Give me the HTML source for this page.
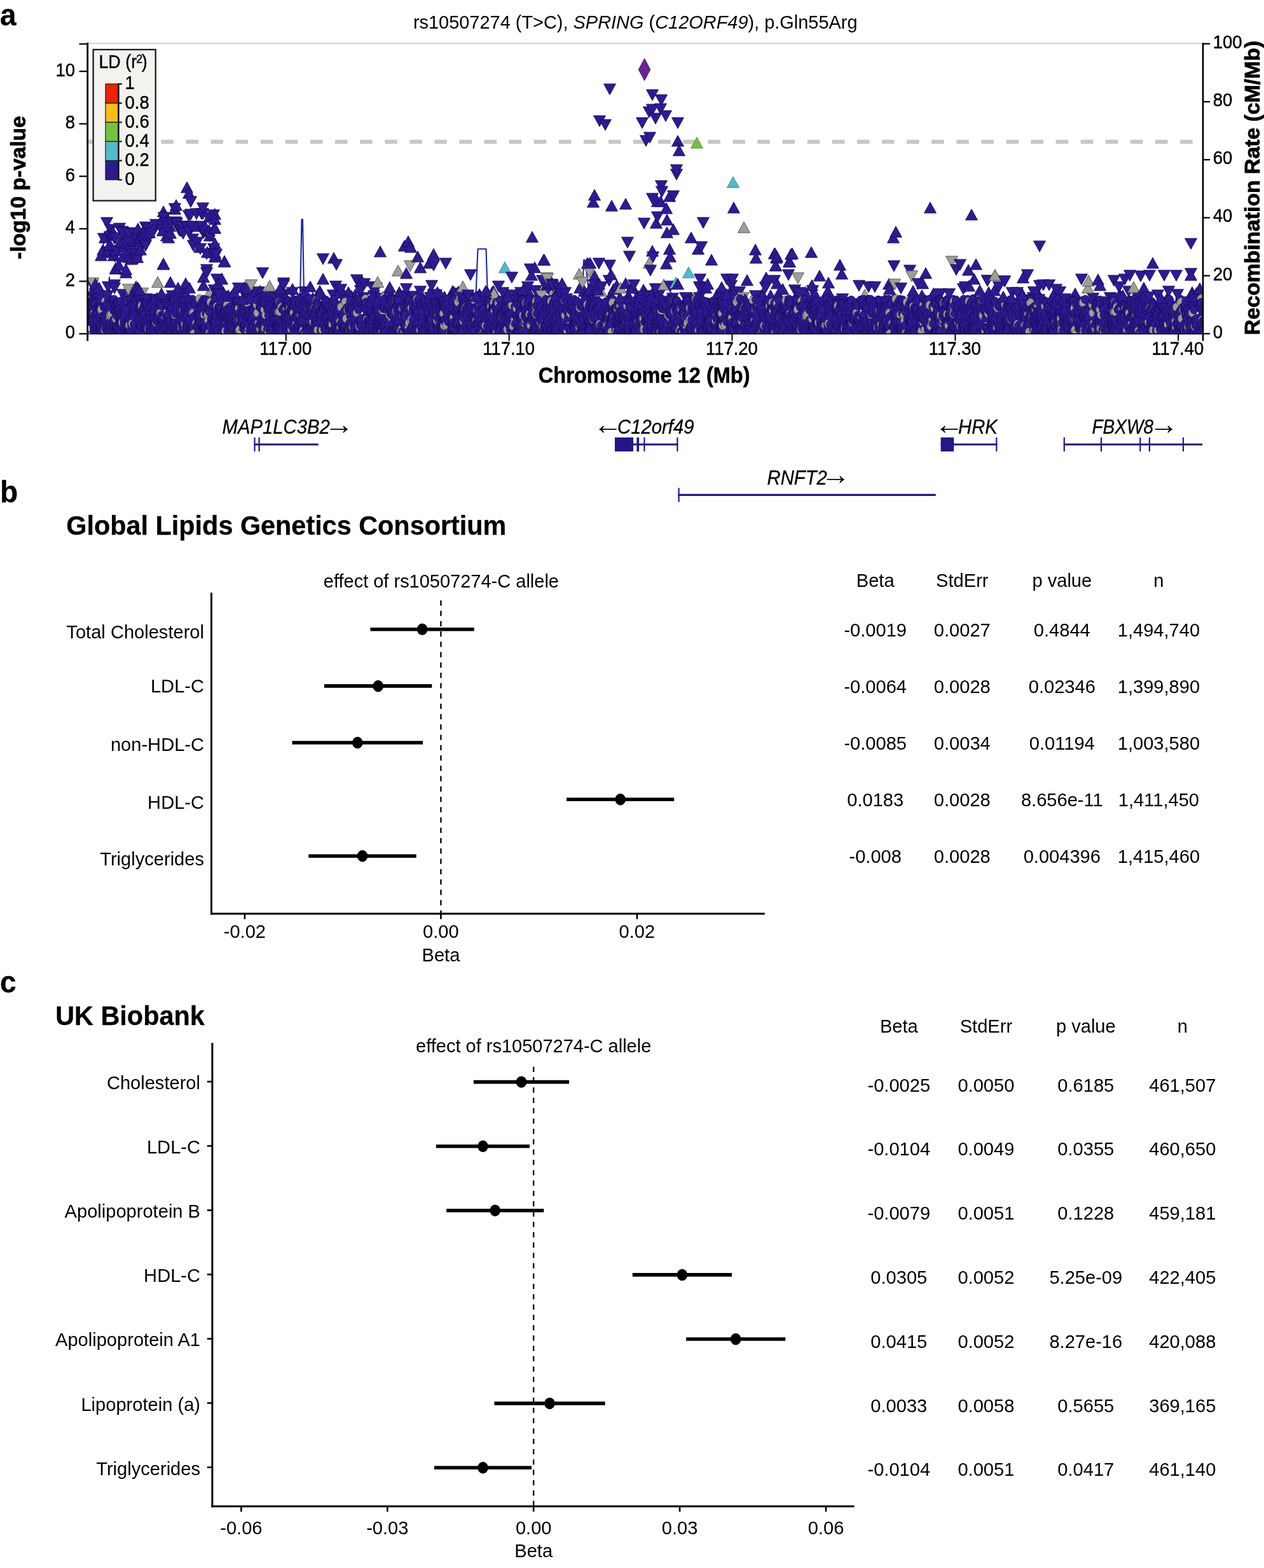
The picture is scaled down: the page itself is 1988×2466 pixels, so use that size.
<!DOCTYPE html>
<html lang="en"><head><meta charset="utf-8"><title>Figure</title>
<style>html,body{margin:0;padding:0;background:#fff}svg{display:block}</style></head>
<body>
<svg width="1988" height="2466" viewBox="0 0 1988 2466" font-family='"Liberation Sans", Arial, Helvetica, sans-serif' fill="#000">
<rect width="100%" height="100%" fill="#fff"/>
<defs>
<path id="u" d="M0-9.2L9.5 8.1H-9.5Z"/>
<path id="d" d="M0 9.2L9.5-8.1H-9.5Z"/>
<clipPath id="cp"><rect x="138" y="60" width="1754.2" height="465.4"/></clipPath>
<g id="t0" transform="scale(.92 1)"><circle cx="0" cy="478" r="6.7"/><circle cx="2" cy="472" r="6.7" class="g"/><circle cx="2" cy="499" r="6.7"/><circle cx="3" cy="490" r="6.7"/><circle cx="3" cy="486" r="6.7"/><circle cx="4" cy="484" r="6.7"/><circle cx="4" cy="501" r="6.7"/><circle cx="4" cy="506" r="6.7"/><circle cx="5" cy="492" r="6.7"/><circle cx="6" cy="476" r="6.7"/><circle cx="6" cy="495" r="6.7"/><circle cx="6" cy="494" r="6.7"/><circle cx="7" cy="508" r="6.7"/><circle cx="7" cy="471" r="6.7"/><circle cx="7" cy="499" r="6.7"/><circle cx="8" cy="471" r="6.7"/><circle cx="8" cy="502" r="6.7"/><circle cx="8" cy="494" r="6.7"/><circle cx="9" cy="515" r="6.7"/><circle cx="9" cy="477" r="6.7"/><circle cx="9" cy="520" r="6.7"/><circle cx="9" cy="476" r="6.7"/><circle cx="9" cy="510" r="6.7"/><circle cx="10" cy="492" r="6.7" class="g"/><circle cx="11" cy="495" r="6.7"/><circle cx="12" cy="499" r="6.7"/><circle cx="12" cy="485" r="6.7"/><circle cx="12" cy="476" r="6.7"/><circle cx="12" cy="496" r="6.7"/><circle cx="13" cy="511" r="6.7"/><circle cx="13" cy="517" r="6.7"/><circle cx="15" cy="505" r="6.7"/><circle cx="15" cy="495" r="6.7"/><circle cx="15" cy="493" r="6.7"/><circle cx="15" cy="522" r="6.7"/><circle cx="15" cy="519" r="6.7"/><circle cx="15" cy="504" r="6.7"/><circle cx="17" cy="482" r="6.7"/><circle cx="17" cy="516" r="6.7"/><circle cx="18" cy="484" r="6.7"/><circle cx="19" cy="519" r="6.7"/><circle cx="19" cy="498" r="6.7"/><circle cx="19" cy="511" r="6.7"/><circle cx="19" cy="470" r="6.7"/><circle cx="19" cy="485" r="6.7"/><circle cx="20" cy="486" r="6.7"/><circle cx="20" cy="518" r="6.7"/><circle cx="20" cy="484" r="6.7"/><circle cx="20" cy="517" r="6.7"/><circle cx="21" cy="495" r="6.7"/><circle cx="21" cy="472" r="6.7"/><circle cx="21" cy="483" r="6.7"/><circle cx="21" cy="515" r="6.7"/><circle cx="21" cy="512" r="6.7"/><circle cx="22" cy="487" r="6.7" class="g"/><circle cx="23" cy="524" r="6.7" class="g"/><circle cx="24" cy="523" r="6.7"/><circle cx="24" cy="521" r="6.7"/><circle cx="25" cy="516" r="6.7"/><circle cx="25" cy="500" r="6.7"/><circle cx="25" cy="497" r="6.7"/><circle cx="26" cy="515" r="6.7"/><circle cx="26" cy="508" r="6.7"/><circle cx="27" cy="483" r="6.7"/><circle cx="27" cy="500" r="6.7"/><circle cx="27" cy="482" r="6.7"/><circle cx="28" cy="513" r="6.7"/><circle cx="28" cy="504" r="6.7"/><circle cx="28" cy="519" r="6.7" class="g"/><circle cx="28" cy="509" r="6.7"/><circle cx="28" cy="505" r="6.7"/><circle cx="29" cy="511" r="6.7"/><circle cx="29" cy="514" r="6.7" class="g"/><circle cx="29" cy="473" r="6.7" class="g"/><circle cx="30" cy="497" r="6.7"/><circle cx="30" cy="518" r="6.7"/><circle cx="30" cy="514" r="6.7"/><circle cx="30" cy="480" r="6.7"/><circle cx="31" cy="491" r="6.7"/><circle cx="32" cy="512" r="6.7"/><circle cx="32" cy="508" r="6.7"/><circle cx="32" cy="479" r="6.7"/><circle cx="33" cy="524" r="6.7"/><circle cx="34" cy="490" r="6.7"/><circle cx="34" cy="471" r="6.7"/><circle cx="35" cy="523" r="6.7"/><circle cx="35" cy="510" r="6.7"/><circle cx="36" cy="486" r="6.7"/><circle cx="37" cy="503" r="6.7"/><circle cx="37" cy="503" r="6.7" class="g"/><circle cx="37" cy="507" r="6.7"/><circle cx="37" cy="496" r="6.7" class="g"/><circle cx="38" cy="479" r="6.7"/><circle cx="38" cy="516" r="6.7"/><circle cx="39" cy="494" r="6.7" class="g"/><circle cx="39" cy="513" r="6.7"/><circle cx="42" cy="474" r="6.7"/><circle cx="42" cy="521" r="6.7"/><circle cx="42" cy="511" r="6.7"/><circle cx="43" cy="488" r="6.7"/><circle cx="43" cy="503" r="6.7"/><circle cx="44" cy="471" r="6.7"/><circle cx="44" cy="508" r="6.7"/><circle cx="44" cy="479" r="6.7"/><circle cx="44" cy="515" r="6.7"/><circle cx="45" cy="519" r="6.7" class="g"/><circle cx="45" cy="523" r="6.7"/><circle cx="45" cy="518" r="6.7"/><circle cx="46" cy="487" r="6.7"/><circle cx="46" cy="481" r="6.7"/><circle cx="47" cy="501" r="6.7" class="g"/><circle cx="47" cy="481" r="6.7"/><circle cx="47" cy="491" r="6.7"/><circle cx="47" cy="517" r="6.7"/><circle cx="48" cy="514" r="6.7"/><circle cx="48" cy="516" r="6.7"/><circle cx="48" cy="514" r="6.7"/><circle cx="48" cy="475" r="6.7"/><circle cx="48" cy="496" r="6.7"/><circle cx="49" cy="518" r="6.7"/><circle cx="49" cy="477" r="6.7"/><circle cx="50" cy="480" r="6.7"/><circle cx="50" cy="517" r="6.7"/><circle cx="50" cy="478" r="6.7"/><circle cx="50" cy="495" r="6.7"/><circle cx="51" cy="477" r="6.7"/><circle cx="51" cy="515" r="6.7"/><circle cx="51" cy="488" r="6.7"/><circle cx="52" cy="492" r="6.7"/><circle cx="52" cy="486" r="6.7"/><circle cx="53" cy="509" r="6.7"/><circle cx="53" cy="504" r="6.7"/><circle cx="53" cy="486" r="6.7"/><circle cx="54" cy="505" r="6.7"/><circle cx="55" cy="474" r="6.7"/><circle cx="55" cy="495" r="6.7"/><circle cx="55" cy="507" r="6.7"/><circle cx="55" cy="523" r="6.7"/><circle cx="56" cy="505" r="6.7"/><circle cx="56" cy="509" r="6.7"/><circle cx="56" cy="492" r="6.7"/><circle cx="56" cy="513" r="6.7"/><circle cx="57" cy="511" r="6.7"/><circle cx="57" cy="506" r="6.7"/><circle cx="58" cy="507" r="6.7" class="g"/><circle cx="59" cy="488" r="6.7"/><circle cx="59" cy="495" r="6.7"/><circle cx="60" cy="481" r="6.7"/><circle cx="61" cy="508" r="6.7"/><circle cx="61" cy="485" r="6.7"/><circle cx="61" cy="522" r="6.7"/><circle cx="61" cy="492" r="6.7"/><circle cx="61" cy="503" r="6.7"/><circle cx="62" cy="511" r="6.7"/><circle cx="62" cy="489" r="6.7"/><circle cx="62" cy="493" r="6.7"/><circle cx="62" cy="515" r="6.7"/><circle cx="62" cy="496" r="6.7"/><circle cx="63" cy="521" r="6.7"/><circle cx="63" cy="517" r="6.7"/><circle cx="65" cy="487" r="6.7"/><circle cx="65" cy="510" r="6.7"/><circle cx="65" cy="473" r="6.7"/><circle cx="66" cy="520" r="6.7"/><circle cx="66" cy="515" r="6.7"/><circle cx="67" cy="521" r="6.7"/><circle cx="67" cy="505" r="6.7"/><circle cx="68" cy="520" r="6.7"/><circle cx="68" cy="506" r="6.7"/><circle cx="69" cy="520" r="6.7"/><circle cx="69" cy="504" r="6.7"/><circle cx="70" cy="524" r="6.7"/><circle cx="70" cy="513" r="6.7" class="g"/><circle cx="70" cy="518" r="6.7"/><circle cx="70" cy="511" r="6.7" class="g"/><circle cx="71" cy="503" r="6.7"/><circle cx="73" cy="512" r="6.7" class="g"/><circle cx="73" cy="474" r="6.7"/><circle cx="73" cy="470" r="6.7"/><circle cx="74" cy="524" r="6.7"/><circle cx="74" cy="524" r="6.7"/><circle cx="74" cy="511" r="6.7"/><circle cx="74" cy="517" r="6.7"/><circle cx="74" cy="521" r="6.7"/><circle cx="74" cy="479" r="6.7"/><circle cx="74" cy="480" r="6.7"/><circle cx="74" cy="495" r="6.7"/><circle cx="75" cy="487" r="6.7"/><circle cx="75" cy="497" r="6.7"/><circle cx="75" cy="509" r="6.7" class="g"/><circle cx="77" cy="497" r="6.7"/><circle cx="78" cy="510" r="6.7"/><circle cx="78" cy="489" r="6.7"/><circle cx="79" cy="473" r="6.7"/><circle cx="79" cy="479" r="6.7"/><circle cx="80" cy="517" r="6.7"/><circle cx="80" cy="524" r="6.7"/><circle cx="80" cy="473" r="6.7"/><circle cx="81" cy="490" r="6.7"/><circle cx="83" cy="524" r="6.7"/><circle cx="84" cy="475" r="6.7"/><circle cx="85" cy="519" r="6.7"/><circle cx="86" cy="487" r="6.7"/><circle cx="86" cy="518" r="6.7"/><circle cx="87" cy="505" r="6.7"/><circle cx="87" cy="503" r="6.7"/><circle cx="87" cy="486" r="6.7"/><circle cx="88" cy="499" r="6.7"/><circle cx="88" cy="491" r="6.7"/><circle cx="88" cy="486" r="6.7"/><circle cx="88" cy="472" r="6.7"/><circle cx="89" cy="476" r="6.7"/><circle cx="89" cy="513" r="6.7"/><circle cx="89" cy="488" r="6.7"/><circle cx="89" cy="514" r="6.7"/><circle cx="89" cy="511" r="6.7"/><circle cx="90" cy="477" r="6.7"/><circle cx="90" cy="492" r="6.7"/><circle cx="91" cy="481" r="6.7" class="g"/><circle cx="92" cy="492" r="6.7"/><circle cx="92" cy="513" r="6.7"/><circle cx="92" cy="489" r="6.7"/><circle cx="94" cy="502" r="6.7" class="g"/><circle cx="94" cy="504" r="6.7"/><circle cx="94" cy="498" r="6.7"/><circle cx="94" cy="484" r="6.7"/><circle cx="95" cy="494" r="6.7"/><circle cx="96" cy="513" r="6.7"/><circle cx="96" cy="516" r="6.7"/><circle cx="96" cy="524" r="6.7"/><circle cx="96" cy="495" r="6.7"/><circle cx="96" cy="477" r="6.7"/><circle cx="97" cy="477" r="6.7"/><circle cx="98" cy="510" r="6.7"/><circle cx="98" cy="503" r="6.7"/><circle cx="98" cy="516" r="6.7"/><circle cx="99" cy="513" r="6.7"/><circle cx="99" cy="517" r="6.7"/><circle cx="99" cy="478" r="6.7"/><circle cx="100" cy="484" r="6.7"/><circle cx="100" cy="513" r="6.7"/><circle cx="101" cy="480" r="6.7"/><circle cx="101" cy="502" r="6.7"/><circle cx="102" cy="522" r="6.7"/><circle cx="102" cy="522" r="6.7"/><circle cx="103" cy="488" r="6.7"/><circle cx="103" cy="518" r="6.7" class="g"/><circle cx="103" cy="494" r="6.7"/><circle cx="105" cy="496" r="6.7" class="g"/><circle cx="105" cy="482" r="6.7"/><circle cx="105" cy="520" r="6.7"/><circle cx="105" cy="496" r="6.7"/><circle cx="105" cy="519" r="6.7"/><circle cx="105" cy="518" r="6.7"/><circle cx="105" cy="500" r="6.7"/><circle cx="106" cy="515" r="6.7"/><circle cx="107" cy="518" r="6.7"/><circle cx="107" cy="502" r="6.7"/><circle cx="107" cy="513" r="6.7"/><circle cx="108" cy="474" r="6.7"/><circle cx="108" cy="477" r="6.7"/><circle cx="108" cy="479" r="6.7"/><circle cx="110" cy="517" r="6.7"/><circle cx="110" cy="507" r="6.7"/><circle cx="111" cy="505" r="6.7"/><circle cx="112" cy="503" r="6.7"/><circle cx="112" cy="499" r="6.7"/><circle cx="112" cy="491" r="6.7"/><circle cx="112" cy="477" r="6.7"/><circle cx="113" cy="509" r="6.7"/><circle cx="113" cy="524" r="6.7"/><circle cx="113" cy="514" r="6.7"/><circle cx="114" cy="472" r="6.7"/><circle cx="115" cy="507" r="6.7"/><circle cx="115" cy="484" r="6.7"/><circle cx="116" cy="498" r="6.7"/><circle cx="116" cy="507" r="6.7" class="g"/><circle cx="117" cy="505" r="6.7"/><circle cx="118" cy="504" r="6.7"/><circle cx="119" cy="492" r="6.7"/><circle cx="119" cy="486" r="6.7"/><circle cx="119" cy="500" r="6.7"/><circle cx="120" cy="519" r="6.7"/><circle cx="120" cy="497" r="6.7"/><circle cx="121" cy="518" r="6.7"/><circle cx="121" cy="515" r="6.7"/><circle cx="122" cy="482" r="6.7"/><circle cx="122" cy="476" r="6.7"/><circle cx="123" cy="490" r="6.7"/><circle cx="123" cy="492" r="6.7" class="g"/><circle cx="123" cy="479" r="6.7"/><circle cx="124" cy="524" r="6.7"/><circle cx="124" cy="503" r="6.7"/><circle cx="124" cy="503" r="6.7"/><circle cx="125" cy="481" r="6.7"/><circle cx="125" cy="505" r="6.7"/><circle cx="125" cy="496" r="6.7"/><circle cx="126" cy="510" r="6.7"/><circle cx="126" cy="514" r="6.7"/><circle cx="126" cy="504" r="6.7"/><circle cx="128" cy="507" r="6.7"/><circle cx="129" cy="504" r="6.7"/><circle cx="129" cy="516" r="6.7"/><circle cx="130" cy="472" r="6.7"/><circle cx="130" cy="514" r="6.7"/><circle cx="130" cy="494" r="6.7"/><circle cx="131" cy="472" r="6.7"/><circle cx="131" cy="498" r="6.7" class="g"/><circle cx="131" cy="494" r="6.7"/><circle cx="132" cy="505" r="6.7"/><circle cx="133" cy="478" r="6.7"/><circle cx="133" cy="509" r="6.7"/><circle cx="133" cy="475" r="6.7"/><circle cx="134" cy="487" r="6.7"/><circle cx="135" cy="471" r="6.7"/><circle cx="135" cy="491" r="6.7"/><circle cx="135" cy="512" r="6.7"/><circle cx="135" cy="523" r="6.7"/><circle cx="135" cy="486" r="6.7"/><circle cx="135" cy="490" r="6.7" class="g"/><circle cx="135" cy="481" r="6.7"/><circle cx="136" cy="496" r="6.7"/><circle cx="136" cy="505" r="6.7"/><circle cx="136" cy="522" r="6.7"/><circle cx="136" cy="495" r="6.7"/><circle cx="137" cy="521" r="6.7"/><circle cx="137" cy="507" r="6.7"/><circle cx="138" cy="484" r="6.7"/><circle cx="139" cy="482" r="6.7"/><circle cx="139" cy="523" r="6.7"/><circle cx="139" cy="479" r="6.7"/><circle cx="139" cy="507" r="6.7"/><circle cx="141" cy="504" r="6.7"/><circle cx="141" cy="484" r="6.7"/><circle cx="141" cy="517" r="6.7"/><circle cx="141" cy="474" r="6.7"/><circle cx="142" cy="522" r="6.7"/><circle cx="143" cy="471" r="6.7"/><circle cx="143" cy="511" r="6.7"/><circle cx="144" cy="515" r="6.7"/><circle cx="144" cy="491" r="6.7"/><circle cx="144" cy="472" r="6.7"/><circle cx="145" cy="485" r="6.7"/><circle cx="145" cy="473" r="6.7"/><circle cx="146" cy="474" r="6.7"/><circle cx="146" cy="503" r="6.7"/><circle cx="146" cy="517" r="6.7"/><circle cx="147" cy="504" r="6.7"/><circle cx="147" cy="495" r="6.7"/><circle cx="147" cy="524" r="6.7"/><circle cx="147" cy="471" r="6.7"/><circle cx="148" cy="510" r="6.7"/><circle cx="148" cy="511" r="6.7"/><circle cx="148" cy="495" r="6.7" class="g"/><circle cx="149" cy="493" r="6.7"/><circle cx="149" cy="508" r="6.7"/><circle cx="149" cy="520" r="6.7"/><circle cx="150" cy="520" r="6.7"/><circle cx="150" cy="481" r="6.7"/><circle cx="151" cy="490" r="6.7"/><circle cx="152" cy="478" r="6.7"/><circle cx="152" cy="474" r="6.7"/><circle cx="152" cy="479" r="6.7"/><circle cx="153" cy="522" r="6.7"/><circle cx="154" cy="513" r="6.7"/><circle cx="155" cy="506" r="6.7"/><circle cx="156" cy="518" r="6.7"/><circle cx="156" cy="509" r="6.7"/><circle cx="156" cy="510" r="6.7"/><circle cx="156" cy="475" r="6.7"/><circle cx="157" cy="524" r="6.7"/><circle cx="157" cy="488" r="6.7"/><circle cx="157" cy="496" r="6.7"/><circle cx="157" cy="501" r="6.7"/><circle cx="159" cy="519" r="6.7"/><circle cx="159" cy="515" r="6.7" class="g"/><circle cx="160" cy="472" r="6.7"/><circle cx="160" cy="472" r="6.7"/><circle cx="160" cy="502" r="6.7"/><circle cx="161" cy="512" r="6.7"/><circle cx="161" cy="515" r="6.7"/><circle cx="162" cy="488" r="6.7" class="g"/><circle cx="162" cy="525" r="6.7"/><circle cx="162" cy="519" r="6.7"/><circle cx="162" cy="480" r="6.7"/><circle cx="163" cy="473" r="6.7"/><circle cx="163" cy="499" r="6.7"/><circle cx="164" cy="490" r="6.7"/><circle cx="164" cy="473" r="6.7"/><circle cx="164" cy="488" r="6.7"/><circle cx="164" cy="495" r="6.7"/><circle cx="165" cy="510" r="6.7" class="g"/><circle cx="165" cy="518" r="6.7"/><circle cx="165" cy="481" r="6.7"/><circle cx="165" cy="483" r="6.7"/><circle cx="166" cy="515" r="6.7" class="g"/><circle cx="166" cy="491" r="6.7"/><circle cx="167" cy="503" r="6.7"/><circle cx="167" cy="525" r="6.7"/><circle cx="167" cy="515" r="6.7"/><circle cx="167" cy="524" r="6.7"/><circle cx="168" cy="509" r="6.7"/><circle cx="168" cy="485" r="6.7"/><circle cx="169" cy="494" r="6.7"/><circle cx="169" cy="519" r="6.7"/><circle cx="170" cy="505" r="6.7"/><circle cx="170" cy="514" r="6.7"/><circle cx="170" cy="486" r="6.7"/><circle cx="172" cy="475" r="6.7"/><circle cx="172" cy="490" r="6.7"/><circle cx="172" cy="506" r="6.7"/><circle cx="172" cy="471" r="6.7"/><circle cx="173" cy="523" r="6.7"/><circle cx="173" cy="504" r="6.7"/><circle cx="173" cy="482" r="6.7"/><circle cx="173" cy="485" r="6.7"/><circle cx="174" cy="518" r="6.7"/><circle cx="175" cy="516" r="6.7"/><circle cx="175" cy="519" r="6.7"/><circle cx="175" cy="516" r="6.7"/><circle cx="175" cy="481" r="6.7"/><circle cx="176" cy="514" r="6.7"/><circle cx="176" cy="521" r="6.7"/><circle cx="177" cy="484" r="6.7"/><circle cx="177" cy="516" r="6.7"/><circle cx="177" cy="521" r="6.7"/><circle cx="178" cy="516" r="6.7"/><circle cx="178" cy="471" r="6.7"/><circle cx="178" cy="512" r="6.7"/><circle cx="179" cy="492" r="6.7" class="g"/><circle cx="179" cy="508" r="6.7"/><circle cx="180" cy="525" r="6.7" class="g"/><circle cx="180" cy="498" r="6.7"/><circle cx="182" cy="476" r="6.7"/><circle cx="182" cy="478" r="6.7"/><circle cx="183" cy="504" r="6.7"/><circle cx="184" cy="509" r="6.7" class="g"/><circle cx="185" cy="513" r="6.7"/><circle cx="186" cy="492" r="6.7"/><circle cx="186" cy="484" r="6.7"/><circle cx="186" cy="497" r="6.7"/><circle cx="187" cy="512" r="6.7"/><circle cx="187" cy="512" r="6.7"/><circle cx="188" cy="522" r="6.7"/><circle cx="188" cy="506" r="6.7"/><circle cx="189" cy="503" r="6.7"/><circle cx="189" cy="497" r="6.7"/><circle cx="189" cy="478" r="6.7"/><circle cx="190" cy="505" r="6.7"/><circle cx="190" cy="494" r="6.7"/><circle cx="190" cy="470" r="6.7" class="g"/><circle cx="191" cy="509" r="6.7"/><circle cx="191" cy="507" r="6.7"/><circle cx="191" cy="495" r="6.7"/><circle cx="192" cy="482" r="6.7"/><circle cx="192" cy="522" r="6.7"/><circle cx="193" cy="481" r="6.7"/><circle cx="193" cy="483" r="6.7"/><circle cx="194" cy="476" r="6.7"/><circle cx="195" cy="518" r="6.7"/><circle cx="195" cy="510" r="6.7"/><circle cx="196" cy="516" r="6.7"/><circle cx="197" cy="478" r="6.7"/><circle cx="197" cy="517" r="6.7"/><circle cx="197" cy="471" r="6.7"/><circle cx="198" cy="524" r="6.7"/><circle cx="198" cy="496" r="6.7"/><circle cx="198" cy="495" r="6.7" class="g"/><circle cx="198" cy="518" r="6.7"/><circle cx="198" cy="507" r="6.7"/><circle cx="198" cy="482" r="6.7"/><circle cx="198" cy="482" r="6.7"/><circle cx="199" cy="515" r="6.7"/><circle cx="199" cy="520" r="6.7"/><circle cx="200" cy="516" r="6.7"/><circle cx="200" cy="473" r="6.7"/><circle cx="201" cy="493" r="6.7"/><circle cx="202" cy="472" r="6.7"/><circle cx="204" cy="495" r="6.7"/><circle cx="204" cy="496" r="6.7" class="g"/><circle cx="204" cy="520" r="6.7"/><circle cx="204" cy="484" r="6.7"/><circle cx="204" cy="482" r="6.7"/><circle cx="205" cy="504" r="6.7" class="g"/><circle cx="206" cy="476" r="6.7"/><circle cx="206" cy="515" r="6.7"/><circle cx="207" cy="490" r="6.7"/><circle cx="207" cy="524" r="6.7" class="g"/><circle cx="207" cy="490" r="6.7"/><circle cx="207" cy="511" r="6.7"/><circle cx="208" cy="488" r="6.7" class="g"/><circle cx="208" cy="486" r="6.7"/><circle cx="208" cy="478" r="6.7"/><circle cx="209" cy="475" r="6.7" class="g"/><circle cx="210" cy="493" r="6.7"/><circle cx="210" cy="524" r="6.7"/><circle cx="210" cy="502" r="6.7"/><circle cx="213" cy="503" r="6.7"/><circle cx="213" cy="502" r="6.7"/><circle cx="213" cy="479" r="6.7"/><circle cx="214" cy="525" r="6.7"/><circle cx="214" cy="505" r="6.7"/><circle cx="215" cy="508" r="6.7"/><circle cx="215" cy="506" r="6.7"/><circle cx="215" cy="520" r="6.7"/><circle cx="216" cy="474" r="6.7"/><circle cx="216" cy="507" r="6.7"/><circle cx="216" cy="511" r="6.7"/><circle cx="217" cy="498" r="6.7"/><circle cx="217" cy="493" r="6.7"/><circle cx="217" cy="471" r="6.7"/><circle cx="217" cy="517" r="6.7"/><circle cx="217" cy="507" r="6.7"/><circle cx="218" cy="480" r="6.7"/><circle cx="218" cy="524" r="6.7"/><circle cx="219" cy="489" r="6.7"/><circle cx="219" cy="497" r="6.7"/><circle cx="220" cy="482" r="6.7" class="g"/><circle cx="221" cy="521" r="6.7"/><circle cx="222" cy="524" r="6.7"/><circle cx="222" cy="484" r="6.7"/><circle cx="222" cy="520" r="6.7"/><circle cx="223" cy="483" r="6.7"/><circle cx="224" cy="505" r="6.7"/><circle cx="224" cy="490" r="6.7"/><circle cx="225" cy="494" r="6.7"/><circle cx="225" cy="489" r="6.7"/><circle cx="225" cy="485" r="6.7"/><circle cx="225" cy="473" r="6.7"/><circle cx="225" cy="497" r="6.7"/><circle cx="226" cy="495" r="6.7"/><circle cx="226" cy="486" r="6.7"/><circle cx="228" cy="520" r="6.7"/><circle cx="228" cy="525" r="6.7"/><circle cx="228" cy="496" r="6.7"/><circle cx="229" cy="516" r="6.7"/><circle cx="230" cy="498" r="6.7"/><circle cx="231" cy="506" r="6.7"/><circle cx="231" cy="498" r="6.7"/><circle cx="231" cy="508" r="6.7"/><circle cx="232" cy="517" r="6.7"/><circle cx="232" cy="496" r="6.7"/><circle cx="232" cy="488" r="6.7"/><circle cx="233" cy="514" r="6.7"/><circle cx="233" cy="491" r="6.7"/><circle cx="233" cy="487" r="6.7"/><circle cx="233" cy="487" r="6.7"/><circle cx="234" cy="523" r="6.7"/><circle cx="234" cy="489" r="6.7"/><circle cx="234" cy="521" r="6.7" class="g"/><circle cx="234" cy="508" r="6.7"/><circle cx="235" cy="500" r="6.7"/><circle cx="235" cy="500" r="6.7"/><circle cx="236" cy="479" r="6.7"/><circle cx="237" cy="507" r="6.7" class="g"/><circle cx="237" cy="484" r="6.7"/><circle cx="237" cy="480" r="6.7" class="g"/><circle cx="237" cy="503" r="6.7"/><circle cx="237" cy="496" r="6.7"/><circle cx="238" cy="486" r="6.7"/></g>
<g id="t1" transform="scale(.92 1)"><circle cx="0" cy="520" r="6.7"/><circle cx="0" cy="510" r="6.7"/><circle cx="0" cy="510" r="6.7"/><circle cx="1" cy="497" r="6.7"/><circle cx="1" cy="489" r="6.7"/><circle cx="2" cy="497" r="6.7"/><circle cx="3" cy="506" r="6.7"/><circle cx="3" cy="508" r="6.7"/><circle cx="4" cy="492" r="6.7"/><circle cx="4" cy="512" r="6.7"/><circle cx="4" cy="523" r="6.7"/><circle cx="4" cy="483" r="6.7"/><circle cx="4" cy="489" r="6.7"/><circle cx="5" cy="509" r="6.7"/><circle cx="7" cy="504" r="6.7"/><circle cx="7" cy="501" r="6.7"/><circle cx="7" cy="506" r="6.7"/><circle cx="7" cy="499" r="6.7"/><circle cx="8" cy="517" r="6.7"/><circle cx="8" cy="505" r="6.7"/><circle cx="8" cy="512" r="6.7"/><circle cx="9" cy="493" r="6.7"/><circle cx="10" cy="519" r="6.7"/><circle cx="11" cy="518" r="6.7" class="g"/><circle cx="11" cy="521" r="6.7"/><circle cx="11" cy="472" r="6.7"/><circle cx="11" cy="501" r="6.7"/><circle cx="12" cy="471" r="6.7"/><circle cx="12" cy="508" r="6.7"/><circle cx="12" cy="515" r="6.7"/><circle cx="13" cy="484" r="6.7"/><circle cx="14" cy="523" r="6.7"/><circle cx="14" cy="493" r="6.7"/><circle cx="14" cy="492" r="6.7"/><circle cx="14" cy="504" r="6.7"/><circle cx="14" cy="498" r="6.7"/><circle cx="15" cy="524" r="6.7"/><circle cx="15" cy="473" r="6.7"/><circle cx="16" cy="512" r="6.7"/><circle cx="16" cy="523" r="6.7"/><circle cx="16" cy="473" r="6.7"/><circle cx="17" cy="483" r="6.7"/><circle cx="17" cy="511" r="6.7"/><circle cx="17" cy="487" r="6.7"/><circle cx="17" cy="506" r="6.7" class="g"/><circle cx="17" cy="507" r="6.7"/><circle cx="18" cy="485" r="6.7"/><circle cx="18" cy="472" r="6.7"/><circle cx="18" cy="473" r="6.7"/><circle cx="19" cy="524" r="6.7"/><circle cx="19" cy="498" r="6.7"/><circle cx="19" cy="480" r="6.7"/><circle cx="19" cy="485" r="6.7" class="g"/><circle cx="20" cy="492" r="6.7"/><circle cx="20" cy="514" r="6.7"/><circle cx="20" cy="519" r="6.7" class="g"/><circle cx="21" cy="502" r="6.7" class="g"/><circle cx="22" cy="525" r="6.7" class="g"/><circle cx="22" cy="498" r="6.7"/><circle cx="23" cy="480" r="6.7"/><circle cx="23" cy="506" r="6.7"/><circle cx="23" cy="502" r="6.7"/><circle cx="25" cy="495" r="6.7"/><circle cx="26" cy="489" r="6.7"/><circle cx="26" cy="493" r="6.7"/><circle cx="26" cy="502" r="6.7"/><circle cx="27" cy="514" r="6.7"/><circle cx="27" cy="517" r="6.7"/><circle cx="28" cy="481" r="6.7"/><circle cx="29" cy="481" r="6.7"/><circle cx="29" cy="513" r="6.7"/><circle cx="29" cy="512" r="6.7"/><circle cx="29" cy="495" r="6.7"/><circle cx="29" cy="476" r="6.7"/><circle cx="30" cy="510" r="6.7"/><circle cx="30" cy="520" r="6.7"/><circle cx="30" cy="493" r="6.7"/><circle cx="33" cy="517" r="6.7"/><circle cx="33" cy="496" r="6.7"/><circle cx="33" cy="473" r="6.7"/><circle cx="34" cy="510" r="6.7"/><circle cx="34" cy="476" r="6.7" class="g"/><circle cx="34" cy="494" r="6.7"/><circle cx="34" cy="498" r="6.7"/><circle cx="35" cy="521" r="6.7"/><circle cx="35" cy="498" r="6.7"/><circle cx="35" cy="523" r="6.7" class="g"/><circle cx="35" cy="490" r="6.7"/><circle cx="36" cy="518" r="6.7" class="g"/><circle cx="36" cy="510" r="6.7"/><circle cx="37" cy="488" r="6.7"/><circle cx="38" cy="471" r="6.7"/><circle cx="38" cy="494" r="6.7"/><circle cx="38" cy="520" r="6.7"/><circle cx="39" cy="502" r="6.7"/><circle cx="39" cy="491" r="6.7"/><circle cx="40" cy="505" r="6.7"/><circle cx="41" cy="501" r="6.7"/><circle cx="42" cy="488" r="6.7"/><circle cx="42" cy="520" r="6.7"/><circle cx="43" cy="497" r="6.7"/><circle cx="43" cy="500" r="6.7"/><circle cx="44" cy="509" r="6.7"/><circle cx="44" cy="515" r="6.7"/><circle cx="44" cy="483" r="6.7"/><circle cx="45" cy="487" r="6.7"/><circle cx="47" cy="512" r="6.7" class="g"/><circle cx="47" cy="524" r="6.7"/><circle cx="47" cy="509" r="6.7"/><circle cx="48" cy="481" r="6.7"/><circle cx="48" cy="516" r="6.7"/><circle cx="49" cy="523" r="6.7"/><circle cx="49" cy="481" r="6.7"/><circle cx="50" cy="521" r="6.7"/><circle cx="50" cy="479" r="6.7" class="g"/><circle cx="50" cy="472" r="6.7"/><circle cx="50" cy="513" r="6.7"/><circle cx="51" cy="492" r="6.7" class="g"/><circle cx="53" cy="524" r="6.7"/><circle cx="53" cy="517" r="6.7"/><circle cx="53" cy="508" r="6.7" class="g"/><circle cx="54" cy="512" r="6.7"/><circle cx="55" cy="516" r="6.7" class="g"/><circle cx="55" cy="483" r="6.7"/><circle cx="56" cy="502" r="6.7"/><circle cx="56" cy="482" r="6.7"/><circle cx="56" cy="512" r="6.7"/><circle cx="57" cy="475" r="6.7"/><circle cx="57" cy="485" r="6.7"/><circle cx="57" cy="521" r="6.7" class="g"/><circle cx="58" cy="525" r="6.7"/><circle cx="59" cy="475" r="6.7"/><circle cx="59" cy="507" r="6.7"/><circle cx="60" cy="519" r="6.7"/><circle cx="60" cy="494" r="6.7"/><circle cx="60" cy="473" r="6.7"/><circle cx="60" cy="520" r="6.7"/><circle cx="61" cy="501" r="6.7"/><circle cx="61" cy="513" r="6.7"/><circle cx="61" cy="520" r="6.7"/><circle cx="61" cy="486" r="6.7"/><circle cx="61" cy="506" r="6.7"/><circle cx="62" cy="508" r="6.7"/><circle cx="62" cy="512" r="6.7"/><circle cx="63" cy="472" r="6.7"/><circle cx="63" cy="497" r="6.7"/><circle cx="63" cy="487" r="6.7" class="g"/><circle cx="64" cy="516" r="6.7" class="g"/><circle cx="64" cy="478" r="6.7"/><circle cx="65" cy="495" r="6.7" class="g"/><circle cx="66" cy="514" r="6.7" class="g"/><circle cx="67" cy="509" r="6.7"/><circle cx="68" cy="484" r="6.7"/><circle cx="68" cy="523" r="6.7"/><circle cx="68" cy="518" r="6.7"/><circle cx="69" cy="485" r="6.7"/><circle cx="69" cy="517" r="6.7"/><circle cx="69" cy="525" r="6.7" class="g"/><circle cx="69" cy="488" r="6.7"/><circle cx="70" cy="473" r="6.7"/><circle cx="70" cy="496" r="6.7"/><circle cx="71" cy="519" r="6.7" class="g"/><circle cx="72" cy="519" r="6.7"/><circle cx="72" cy="507" r="6.7"/><circle cx="73" cy="518" r="6.7"/><circle cx="73" cy="518" r="6.7"/><circle cx="73" cy="525" r="6.7"/><circle cx="74" cy="474" r="6.7"/><circle cx="75" cy="476" r="6.7"/><circle cx="76" cy="479" r="6.7"/><circle cx="77" cy="509" r="6.7"/><circle cx="77" cy="514" r="6.7"/><circle cx="77" cy="510" r="6.7"/><circle cx="77" cy="494" r="6.7"/><circle cx="77" cy="517" r="6.7"/><circle cx="79" cy="492" r="6.7"/><circle cx="79" cy="489" r="6.7"/><circle cx="79" cy="496" r="6.7"/><circle cx="81" cy="476" r="6.7"/><circle cx="81" cy="521" r="6.7" class="g"/><circle cx="81" cy="501" r="6.7"/><circle cx="81" cy="522" r="6.7"/><circle cx="82" cy="491" r="6.7"/><circle cx="82" cy="513" r="6.7"/><circle cx="82" cy="488" r="6.7"/><circle cx="82" cy="510" r="6.7"/><circle cx="83" cy="512" r="6.7"/><circle cx="83" cy="496" r="6.7"/><circle cx="83" cy="480" r="6.7"/><circle cx="84" cy="478" r="6.7"/><circle cx="84" cy="521" r="6.7"/><circle cx="84" cy="514" r="6.7"/><circle cx="84" cy="510" r="6.7"/><circle cx="84" cy="505" r="6.7"/><circle cx="84" cy="501" r="6.7"/><circle cx="85" cy="481" r="6.7"/><circle cx="85" cy="473" r="6.7"/><circle cx="85" cy="511" r="6.7"/><circle cx="86" cy="521" r="6.7"/><circle cx="86" cy="494" r="6.7"/><circle cx="86" cy="479" r="6.7"/><circle cx="87" cy="510" r="6.7"/><circle cx="87" cy="491" r="6.7" class="g"/><circle cx="87" cy="500" r="6.7"/><circle cx="87" cy="525" r="6.7"/><circle cx="88" cy="521" r="6.7" class="g"/><circle cx="88" cy="519" r="6.7"/><circle cx="88" cy="517" r="6.7"/><circle cx="89" cy="475" r="6.7" class="g"/><circle cx="89" cy="490" r="6.7" class="g"/><circle cx="89" cy="510" r="6.7"/><circle cx="89" cy="505" r="6.7"/><circle cx="89" cy="517" r="6.7"/><circle cx="89" cy="522" r="6.7"/><circle cx="90" cy="478" r="6.7"/><circle cx="91" cy="475" r="6.7"/><circle cx="92" cy="524" r="6.7"/><circle cx="92" cy="524" r="6.7"/><circle cx="92" cy="507" r="6.7"/><circle cx="92" cy="483" r="6.7" class="g"/><circle cx="93" cy="522" r="6.7"/><circle cx="94" cy="487" r="6.7"/><circle cx="95" cy="512" r="6.7"/><circle cx="96" cy="484" r="6.7"/><circle cx="96" cy="488" r="6.7"/><circle cx="98" cy="503" r="6.7"/><circle cx="98" cy="497" r="6.7"/><circle cx="99" cy="512" r="6.7"/><circle cx="99" cy="475" r="6.7"/><circle cx="99" cy="500" r="6.7"/><circle cx="100" cy="504" r="6.7"/><circle cx="100" cy="492" r="6.7"/><circle cx="100" cy="503" r="6.7"/><circle cx="101" cy="506" r="6.7"/><circle cx="101" cy="485" r="6.7" class="g"/><circle cx="101" cy="479" r="6.7"/><circle cx="102" cy="522" r="6.7"/><circle cx="103" cy="480" r="6.7"/><circle cx="103" cy="473" r="6.7"/><circle cx="103" cy="489" r="6.7"/><circle cx="104" cy="512" r="6.7"/><circle cx="104" cy="473" r="6.7"/><circle cx="104" cy="502" r="6.7"/><circle cx="104" cy="499" r="6.7"/><circle cx="104" cy="492" r="6.7"/><circle cx="104" cy="493" r="6.7"/><circle cx="105" cy="494" r="6.7"/><circle cx="105" cy="523" r="6.7"/><circle cx="105" cy="481" r="6.7"/><circle cx="106" cy="524" r="6.7"/><circle cx="106" cy="486" r="6.7" class="g"/><circle cx="107" cy="490" r="6.7"/><circle cx="107" cy="489" r="6.7"/><circle cx="107" cy="508" r="6.7"/><circle cx="108" cy="486" r="6.7"/><circle cx="108" cy="477" r="6.7"/><circle cx="109" cy="518" r="6.7" class="g"/><circle cx="109" cy="492" r="6.7"/><circle cx="110" cy="488" r="6.7"/><circle cx="110" cy="513" r="6.7"/><circle cx="111" cy="491" r="6.7"/><circle cx="112" cy="473" r="6.7"/><circle cx="112" cy="494" r="6.7"/><circle cx="112" cy="506" r="6.7"/><circle cx="112" cy="481" r="6.7"/><circle cx="113" cy="521" r="6.7"/><circle cx="113" cy="501" r="6.7"/><circle cx="113" cy="492" r="6.7" class="g"/><circle cx="114" cy="482" r="6.7"/><circle cx="114" cy="474" r="6.7"/><circle cx="114" cy="477" r="6.7"/><circle cx="115" cy="478" r="6.7"/><circle cx="115" cy="472" r="6.7"/><circle cx="115" cy="499" r="6.7"/><circle cx="116" cy="508" r="6.7"/><circle cx="116" cy="516" r="6.7"/><circle cx="116" cy="474" r="6.7"/><circle cx="116" cy="497" r="6.7"/><circle cx="117" cy="509" r="6.7"/><circle cx="117" cy="510" r="6.7" class="g"/><circle cx="118" cy="524" r="6.7"/><circle cx="118" cy="488" r="6.7"/><circle cx="118" cy="513" r="6.7"/><circle cx="119" cy="499" r="6.7"/><circle cx="120" cy="514" r="6.7"/><circle cx="120" cy="494" r="6.7"/><circle cx="120" cy="512" r="6.7"/><circle cx="120" cy="503" r="6.7"/><circle cx="121" cy="499" r="6.7" class="g"/><circle cx="121" cy="492" r="6.7"/><circle cx="121" cy="503" r="6.7"/><circle cx="121" cy="496" r="6.7"/><circle cx="121" cy="471" r="6.7"/><circle cx="122" cy="515" r="6.7"/><circle cx="122" cy="476" r="6.7"/><circle cx="123" cy="478" r="6.7"/><circle cx="123" cy="487" r="6.7"/><circle cx="123" cy="523" r="6.7"/><circle cx="125" cy="490" r="6.7"/><circle cx="125" cy="496" r="6.7" class="g"/><circle cx="125" cy="503" r="6.7"/><circle cx="125" cy="503" r="6.7"/><circle cx="125" cy="506" r="6.7"/><circle cx="126" cy="483" r="6.7" class="g"/><circle cx="126" cy="516" r="6.7"/><circle cx="126" cy="482" r="6.7"/><circle cx="126" cy="511" r="6.7"/><circle cx="127" cy="492" r="6.7"/><circle cx="127" cy="523" r="6.7"/><circle cx="127" cy="496" r="6.7"/><circle cx="127" cy="501" r="6.7"/><circle cx="127" cy="517" r="6.7"/><circle cx="128" cy="518" r="6.7"/><circle cx="129" cy="483" r="6.7"/><circle cx="129" cy="505" r="6.7"/><circle cx="129" cy="520" r="6.7" class="g"/><circle cx="129" cy="493" r="6.7"/><circle cx="130" cy="492" r="6.7"/><circle cx="130" cy="492" r="6.7"/><circle cx="130" cy="524" r="6.7"/><circle cx="130" cy="473" r="6.7"/><circle cx="133" cy="525" r="6.7" class="g"/><circle cx="133" cy="490" r="6.7"/><circle cx="133" cy="474" r="6.7"/><circle cx="134" cy="515" r="6.7"/><circle cx="134" cy="480" r="6.7"/><circle cx="135" cy="514" r="6.7"/><circle cx="135" cy="485" r="6.7"/><circle cx="135" cy="522" r="6.7"/><circle cx="135" cy="508" r="6.7"/><circle cx="136" cy="471" r="6.7"/><circle cx="138" cy="496" r="6.7"/><circle cx="139" cy="473" r="6.7"/><circle cx="139" cy="509" r="6.7"/><circle cx="140" cy="470" r="6.7"/><circle cx="140" cy="512" r="6.7"/><circle cx="141" cy="515" r="6.7"/><circle cx="141" cy="481" r="6.7"/><circle cx="142" cy="490" r="6.7"/><circle cx="142" cy="487" r="6.7"/><circle cx="142" cy="483" r="6.7"/><circle cx="142" cy="524" r="6.7"/><circle cx="143" cy="506" r="6.7" class="g"/><circle cx="143" cy="501" r="6.7"/><circle cx="144" cy="508" r="6.7"/><circle cx="144" cy="509" r="6.7"/><circle cx="145" cy="512" r="6.7"/><circle cx="145" cy="509" r="6.7"/><circle cx="145" cy="483" r="6.7"/><circle cx="145" cy="519" r="6.7"/><circle cx="146" cy="503" r="6.7"/><circle cx="146" cy="506" r="6.7" class="g"/><circle cx="146" cy="478" r="6.7"/><circle cx="146" cy="506" r="6.7" class="g"/><circle cx="147" cy="499" r="6.7"/><circle cx="148" cy="481" r="6.7"/><circle cx="148" cy="487" r="6.7"/><circle cx="148" cy="485" r="6.7" class="g"/><circle cx="149" cy="508" r="6.7"/><circle cx="149" cy="518" r="6.7"/><circle cx="149" cy="491" r="6.7"/><circle cx="149" cy="486" r="6.7"/><circle cx="150" cy="512" r="6.7"/><circle cx="150" cy="520" r="6.7"/><circle cx="151" cy="524" r="6.7"/><circle cx="151" cy="474" r="6.7" class="g"/><circle cx="152" cy="486" r="6.7"/><circle cx="152" cy="516" r="6.7"/><circle cx="152" cy="507" r="6.7"/><circle cx="152" cy="475" r="6.7"/><circle cx="153" cy="504" r="6.7"/><circle cx="153" cy="505" r="6.7"/><circle cx="154" cy="479" r="6.7"/><circle cx="154" cy="519" r="6.7" class="g"/><circle cx="157" cy="506" r="6.7"/><circle cx="157" cy="509" r="6.7"/><circle cx="157" cy="491" r="6.7"/><circle cx="158" cy="483" r="6.7" class="g"/><circle cx="158" cy="488" r="6.7"/><circle cx="159" cy="496" r="6.7"/><circle cx="159" cy="520" r="6.7"/><circle cx="159" cy="481" r="6.7"/><circle cx="159" cy="496" r="6.7"/><circle cx="161" cy="487" r="6.7"/><circle cx="161" cy="504" r="6.7"/><circle cx="161" cy="519" r="6.7"/><circle cx="161" cy="517" r="6.7"/><circle cx="161" cy="495" r="6.7"/><circle cx="162" cy="519" r="6.7" class="g"/><circle cx="163" cy="485" r="6.7"/><circle cx="163" cy="486" r="6.7"/><circle cx="164" cy="485" r="6.7"/><circle cx="164" cy="511" r="6.7"/><circle cx="165" cy="479" r="6.7"/><circle cx="165" cy="478" r="6.7"/><circle cx="165" cy="508" r="6.7"/><circle cx="166" cy="499" r="6.7"/><circle cx="166" cy="518" r="6.7"/><circle cx="166" cy="477" r="6.7"/><circle cx="167" cy="521" r="6.7"/><circle cx="167" cy="477" r="6.7"/><circle cx="167" cy="482" r="6.7"/><circle cx="168" cy="472" r="6.7"/><circle cx="168" cy="501" r="6.7"/><circle cx="168" cy="476" r="6.7"/><circle cx="170" cy="484" r="6.7"/><circle cx="170" cy="506" r="6.7"/><circle cx="170" cy="498" r="6.7"/><circle cx="170" cy="499" r="6.7"/><circle cx="171" cy="484" r="6.7"/><circle cx="171" cy="525" r="6.7"/><circle cx="171" cy="482" r="6.7"/><circle cx="172" cy="507" r="6.7"/><circle cx="172" cy="507" r="6.7"/><circle cx="173" cy="519" r="6.7"/><circle cx="173" cy="483" r="6.7"/><circle cx="174" cy="488" r="6.7"/><circle cx="174" cy="503" r="6.7"/><circle cx="175" cy="501" r="6.7"/><circle cx="175" cy="515" r="6.7"/><circle cx="176" cy="490" r="6.7"/><circle cx="176" cy="517" r="6.7"/><circle cx="177" cy="487" r="6.7"/><circle cx="177" cy="490" r="6.7"/><circle cx="177" cy="506" r="6.7"/><circle cx="177" cy="503" r="6.7"/><circle cx="177" cy="514" r="6.7"/><circle cx="179" cy="481" r="6.7"/><circle cx="179" cy="510" r="6.7" class="g"/><circle cx="180" cy="502" r="6.7"/><circle cx="180" cy="473" r="6.7"/><circle cx="180" cy="520" r="6.7"/><circle cx="180" cy="499" r="6.7"/><circle cx="181" cy="522" r="6.7"/><circle cx="181" cy="490" r="6.7"/><circle cx="182" cy="471" r="6.7"/><circle cx="183" cy="517" r="6.7"/><circle cx="183" cy="485" r="6.7"/><circle cx="183" cy="504" r="6.7"/><circle cx="183" cy="503" r="6.7"/><circle cx="183" cy="508" r="6.7"/><circle cx="185" cy="478" r="6.7"/><circle cx="186" cy="518" r="6.7"/><circle cx="186" cy="490" r="6.7"/><circle cx="186" cy="521" r="6.7"/><circle cx="187" cy="519" r="6.7"/><circle cx="187" cy="496" r="6.7"/><circle cx="187" cy="498" r="6.7"/><circle cx="188" cy="520" r="6.7"/><circle cx="188" cy="503" r="6.7"/><circle cx="188" cy="515" r="6.7"/><circle cx="188" cy="524" r="6.7"/><circle cx="189" cy="494" r="6.7"/><circle cx="189" cy="515" r="6.7"/><circle cx="189" cy="523" r="6.7"/><circle cx="189" cy="489" r="6.7"/><circle cx="190" cy="509" r="6.7"/><circle cx="191" cy="480" r="6.7"/><circle cx="191" cy="514" r="6.7"/><circle cx="192" cy="508" r="6.7"/><circle cx="192" cy="506" r="6.7" class="g"/><circle cx="193" cy="510" r="6.7"/><circle cx="193" cy="515" r="6.7" class="g"/><circle cx="194" cy="483" r="6.7" class="g"/><circle cx="195" cy="523" r="6.7"/><circle cx="195" cy="521" r="6.7"/><circle cx="195" cy="511" r="6.7"/><circle cx="196" cy="503" r="6.7"/><circle cx="196" cy="515" r="6.7"/><circle cx="196" cy="495" r="6.7"/><circle cx="197" cy="511" r="6.7"/><circle cx="197" cy="494" r="6.7"/><circle cx="198" cy="515" r="6.7"/><circle cx="199" cy="471" r="6.7"/><circle cx="199" cy="522" r="6.7"/><circle cx="200" cy="515" r="6.7"/><circle cx="200" cy="514" r="6.7"/><circle cx="200" cy="489" r="6.7"/><circle cx="200" cy="517" r="6.7"/><circle cx="201" cy="471" r="6.7"/><circle cx="201" cy="514" r="6.7"/><circle cx="201" cy="475" r="6.7" class="g"/><circle cx="203" cy="519" r="6.7"/><circle cx="203" cy="501" r="6.7" class="g"/><circle cx="204" cy="520" r="6.7"/><circle cx="204" cy="484" r="6.7"/><circle cx="205" cy="487" r="6.7" class="g"/><circle cx="206" cy="522" r="6.7"/><circle cx="206" cy="516" r="6.7"/><circle cx="207" cy="482" r="6.7"/><circle cx="207" cy="487" r="6.7"/><circle cx="207" cy="524" r="6.7"/><circle cx="208" cy="520" r="6.7"/><circle cx="208" cy="509" r="6.7"/><circle cx="208" cy="486" r="6.7"/><circle cx="209" cy="516" r="6.7"/><circle cx="209" cy="520" r="6.7" class="g"/><circle cx="209" cy="479" r="6.7"/><circle cx="210" cy="497" r="6.7"/><circle cx="210" cy="488" r="6.7"/><circle cx="210" cy="497" r="6.7"/><circle cx="210" cy="473" r="6.7"/><circle cx="210" cy="520" r="6.7"/><circle cx="210" cy="493" r="6.7"/><circle cx="211" cy="518" r="6.7"/><circle cx="211" cy="503" r="6.7"/><circle cx="212" cy="486" r="6.7"/><circle cx="212" cy="521" r="6.7"/><circle cx="213" cy="509" r="6.7"/><circle cx="213" cy="488" r="6.7"/><circle cx="214" cy="513" r="6.7"/><circle cx="214" cy="514" r="6.7" class="g"/><circle cx="215" cy="495" r="6.7"/><circle cx="215" cy="523" r="6.7"/><circle cx="216" cy="492" r="6.7"/><circle cx="216" cy="512" r="6.7"/><circle cx="217" cy="518" r="6.7"/><circle cx="217" cy="512" r="6.7"/><circle cx="218" cy="474" r="6.7"/><circle cx="218" cy="515" r="6.7"/><circle cx="219" cy="504" r="6.7"/><circle cx="220" cy="478" r="6.7"/><circle cx="221" cy="492" r="6.7" class="g"/><circle cx="222" cy="521" r="6.7"/><circle cx="222" cy="479" r="6.7"/><circle cx="223" cy="523" r="6.7"/><circle cx="223" cy="517" r="6.7"/><circle cx="223" cy="470" r="6.7"/><circle cx="224" cy="504" r="6.7"/><circle cx="224" cy="507" r="6.7"/><circle cx="224" cy="487" r="6.7"/><circle cx="224" cy="525" r="6.7"/><circle cx="224" cy="523" r="6.7"/><circle cx="225" cy="511" r="6.7" class="g"/><circle cx="225" cy="514" r="6.7"/><circle cx="225" cy="517" r="6.7"/><circle cx="225" cy="513" r="6.7" class="g"/><circle cx="226" cy="507" r="6.7"/><circle cx="226" cy="475" r="6.7"/><circle cx="227" cy="472" r="6.7"/><circle cx="227" cy="512" r="6.7"/><circle cx="228" cy="511" r="6.7"/><circle cx="228" cy="501" r="6.7"/><circle cx="230" cy="524" r="6.7"/><circle cx="231" cy="478" r="6.7"/><circle cx="232" cy="518" r="6.7"/><circle cx="233" cy="483" r="6.7"/><circle cx="234" cy="470" r="6.7"/><circle cx="235" cy="478" r="6.7"/><circle cx="235" cy="482" r="6.7"/><circle cx="236" cy="516" r="6.7"/><circle cx="236" cy="470" r="6.7" class="g"/><circle cx="236" cy="509" r="6.7"/><circle cx="236" cy="476" r="6.7"/><circle cx="236" cy="524" r="6.7"/><circle cx="236" cy="476" r="6.7"/><circle cx="237" cy="500" r="6.7"/><circle cx="237" cy="497" r="6.7"/><circle cx="238" cy="489" r="6.7"/><circle cx="238" cy="503" r="6.7" class="g"/></g>
<g id="t2" transform="scale(.92 1)"><circle cx="1" cy="505" r="6.7"/><circle cx="1" cy="487" r="6.7"/><circle cx="2" cy="518" r="6.7"/><circle cx="2" cy="504" r="6.7"/><circle cx="3" cy="524" r="6.7"/><circle cx="4" cy="506" r="6.7"/><circle cx="4" cy="479" r="6.7"/><circle cx="5" cy="503" r="6.7"/><circle cx="5" cy="488" r="6.7"/><circle cx="5" cy="501" r="6.7"/><circle cx="6" cy="511" r="6.7"/><circle cx="7" cy="491" r="6.7"/><circle cx="7" cy="471" r="6.7"/><circle cx="7" cy="480" r="6.7"/><circle cx="9" cy="511" r="6.7"/><circle cx="9" cy="505" r="6.7"/><circle cx="9" cy="524" r="6.7"/><circle cx="9" cy="497" r="6.7"/><circle cx="10" cy="470" r="6.7"/><circle cx="10" cy="498" r="6.7"/><circle cx="10" cy="525" r="6.7"/><circle cx="11" cy="521" r="6.7"/><circle cx="11" cy="515" r="6.7"/><circle cx="12" cy="498" r="6.7"/><circle cx="13" cy="484" r="6.7"/><circle cx="14" cy="520" r="6.7"/><circle cx="16" cy="492" r="6.7"/><circle cx="16" cy="524" r="6.7"/><circle cx="16" cy="486" r="6.7"/><circle cx="16" cy="473" r="6.7"/><circle cx="16" cy="515" r="6.7"/><circle cx="17" cy="484" r="6.7"/><circle cx="17" cy="502" r="6.7"/><circle cx="17" cy="513" r="6.7"/><circle cx="18" cy="519" r="6.7"/><circle cx="18" cy="506" r="6.7"/><circle cx="18" cy="481" r="6.7"/><circle cx="18" cy="523" r="6.7"/><circle cx="18" cy="514" r="6.7"/><circle cx="19" cy="488" r="6.7"/><circle cx="19" cy="506" r="6.7"/><circle cx="20" cy="513" r="6.7"/><circle cx="21" cy="473" r="6.7"/><circle cx="21" cy="505" r="6.7"/><circle cx="21" cy="497" r="6.7"/><circle cx="22" cy="502" r="6.7"/><circle cx="22" cy="512" r="6.7"/><circle cx="23" cy="518" r="6.7"/><circle cx="23" cy="505" r="6.7"/><circle cx="24" cy="513" r="6.7"/><circle cx="25" cy="521" r="6.7"/><circle cx="25" cy="517" r="6.7"/><circle cx="25" cy="521" r="6.7"/><circle cx="25" cy="484" r="6.7"/><circle cx="26" cy="500" r="6.7"/><circle cx="26" cy="522" r="6.7" class="g"/><circle cx="26" cy="506" r="6.7"/><circle cx="27" cy="513" r="6.7"/><circle cx="27" cy="514" r="6.7"/><circle cx="27" cy="488" r="6.7"/><circle cx="27" cy="488" r="6.7" class="g"/><circle cx="28" cy="506" r="6.7"/><circle cx="28" cy="475" r="6.7"/><circle cx="28" cy="485" r="6.7"/><circle cx="28" cy="515" r="6.7"/><circle cx="28" cy="502" r="6.7"/><circle cx="28" cy="522" r="6.7"/><circle cx="29" cy="484" r="6.7"/><circle cx="29" cy="471" r="6.7"/><circle cx="30" cy="509" r="6.7"/><circle cx="31" cy="482" r="6.7"/><circle cx="31" cy="506" r="6.7"/><circle cx="31" cy="523" r="6.7"/><circle cx="31" cy="525" r="6.7"/><circle cx="32" cy="474" r="6.7"/><circle cx="32" cy="515" r="6.7"/><circle cx="32" cy="521" r="6.7"/><circle cx="34" cy="501" r="6.7"/><circle cx="35" cy="485" r="6.7"/><circle cx="35" cy="487" r="6.7"/><circle cx="36" cy="482" r="6.7"/><circle cx="36" cy="515" r="6.7"/><circle cx="36" cy="480" r="6.7"/><circle cx="36" cy="519" r="6.7"/><circle cx="37" cy="510" r="6.7"/><circle cx="38" cy="498" r="6.7"/><circle cx="39" cy="471" r="6.7"/><circle cx="39" cy="496" r="6.7" class="g"/><circle cx="41" cy="489" r="6.7"/><circle cx="41" cy="473" r="6.7"/><circle cx="41" cy="490" r="6.7"/><circle cx="41" cy="494" r="6.7"/><circle cx="41" cy="519" r="6.7"/><circle cx="42" cy="471" r="6.7"/><circle cx="42" cy="521" r="6.7"/><circle cx="42" cy="521" r="6.7"/><circle cx="42" cy="489" r="6.7"/><circle cx="42" cy="474" r="6.7"/><circle cx="43" cy="494" r="6.7"/><circle cx="43" cy="477" r="6.7"/><circle cx="43" cy="523" r="6.7"/><circle cx="43" cy="501" r="6.7" class="g"/><circle cx="43" cy="496" r="6.7"/><circle cx="44" cy="493" r="6.7"/><circle cx="45" cy="508" r="6.7"/><circle cx="46" cy="522" r="6.7"/><circle cx="47" cy="523" r="6.7"/><circle cx="47" cy="485" r="6.7"/><circle cx="49" cy="484" r="6.7"/><circle cx="49" cy="505" r="6.7"/><circle cx="50" cy="516" r="6.7"/><circle cx="50" cy="489" r="6.7" class="g"/><circle cx="50" cy="515" r="6.7"/><circle cx="50" cy="519" r="6.7"/><circle cx="50" cy="473" r="6.7" class="g"/><circle cx="50" cy="502" r="6.7"/><circle cx="51" cy="480" r="6.7"/><circle cx="51" cy="473" r="6.7"/><circle cx="52" cy="472" r="6.7"/><circle cx="52" cy="523" r="6.7"/><circle cx="52" cy="476" r="6.7"/><circle cx="52" cy="481" r="6.7"/><circle cx="52" cy="518" r="6.7"/><circle cx="52" cy="525" r="6.7"/><circle cx="52" cy="489" r="6.7"/><circle cx="52" cy="483" r="6.7"/><circle cx="53" cy="507" r="6.7"/><circle cx="54" cy="476" r="6.7"/><circle cx="54" cy="473" r="6.7"/><circle cx="55" cy="486" r="6.7"/><circle cx="55" cy="521" r="6.7"/><circle cx="55" cy="505" r="6.7"/><circle cx="56" cy="524" r="6.7"/><circle cx="57" cy="483" r="6.7"/><circle cx="58" cy="518" r="6.7" class="g"/><circle cx="59" cy="515" r="6.7"/><circle cx="60" cy="499" r="6.7"/><circle cx="60" cy="481" r="6.7"/><circle cx="60" cy="517" r="6.7" class="g"/><circle cx="61" cy="485" r="6.7" class="g"/><circle cx="61" cy="521" r="6.7"/><circle cx="62" cy="496" r="6.7" class="g"/><circle cx="63" cy="522" r="6.7"/><circle cx="63" cy="509" r="6.7"/><circle cx="63" cy="479" r="6.7"/><circle cx="63" cy="483" r="6.7"/><circle cx="63" cy="493" r="6.7"/><circle cx="63" cy="497" r="6.7"/><circle cx="64" cy="522" r="6.7"/><circle cx="64" cy="521" r="6.7" class="g"/><circle cx="65" cy="517" r="6.7"/><circle cx="65" cy="493" r="6.7"/><circle cx="65" cy="493" r="6.7"/><circle cx="65" cy="512" r="6.7"/><circle cx="66" cy="511" r="6.7"/><circle cx="66" cy="494" r="6.7"/><circle cx="66" cy="512" r="6.7"/><circle cx="67" cy="478" r="6.7"/><circle cx="67" cy="523" r="6.7"/><circle cx="67" cy="482" r="6.7"/><circle cx="68" cy="502" r="6.7"/><circle cx="69" cy="498" r="6.7" class="g"/><circle cx="70" cy="484" r="6.7"/><circle cx="70" cy="498" r="6.7"/><circle cx="70" cy="475" r="6.7"/><circle cx="70" cy="520" r="6.7"/><circle cx="71" cy="514" r="6.7" class="g"/><circle cx="71" cy="471" r="6.7"/><circle cx="71" cy="478" r="6.7"/><circle cx="71" cy="522" r="6.7"/><circle cx="71" cy="508" r="6.7"/><circle cx="72" cy="508" r="6.7" class="g"/><circle cx="72" cy="477" r="6.7"/><circle cx="72" cy="473" r="6.7"/><circle cx="74" cy="491" r="6.7"/><circle cx="75" cy="482" r="6.7"/><circle cx="76" cy="484" r="6.7" class="g"/><circle cx="76" cy="519" r="6.7"/><circle cx="76" cy="503" r="6.7" class="g"/><circle cx="77" cy="513" r="6.7"/><circle cx="77" cy="515" r="6.7"/><circle cx="78" cy="476" r="6.7"/><circle cx="79" cy="522" r="6.7"/><circle cx="79" cy="511" r="6.7"/><circle cx="79" cy="486" r="6.7"/><circle cx="79" cy="480" r="6.7"/><circle cx="79" cy="503" r="6.7"/><circle cx="81" cy="521" r="6.7" class="g"/><circle cx="81" cy="521" r="6.7"/><circle cx="83" cy="477" r="6.7"/><circle cx="83" cy="489" r="6.7"/><circle cx="83" cy="484" r="6.7"/><circle cx="84" cy="487" r="6.7"/><circle cx="84" cy="511" r="6.7"/><circle cx="84" cy="523" r="6.7"/><circle cx="84" cy="522" r="6.7"/><circle cx="85" cy="476" r="6.7"/><circle cx="85" cy="516" r="6.7"/><circle cx="85" cy="491" r="6.7"/><circle cx="86" cy="509" r="6.7"/><circle cx="86" cy="470" r="6.7" class="g"/><circle cx="86" cy="518" r="6.7"/><circle cx="86" cy="495" r="6.7"/><circle cx="87" cy="492" r="6.7"/><circle cx="88" cy="472" r="6.7"/><circle cx="89" cy="470" r="6.7"/><circle cx="90" cy="516" r="6.7"/><circle cx="90" cy="524" r="6.7"/><circle cx="91" cy="499" r="6.7"/><circle cx="91" cy="519" r="6.7" class="g"/><circle cx="92" cy="478" r="6.7"/><circle cx="93" cy="479" r="6.7"/><circle cx="93" cy="515" r="6.7"/><circle cx="94" cy="522" r="6.7"/><circle cx="94" cy="499" r="6.7"/><circle cx="95" cy="524" r="6.7"/><circle cx="95" cy="499" r="6.7"/><circle cx="95" cy="489" r="6.7"/><circle cx="95" cy="507" r="6.7"/><circle cx="97" cy="472" r="6.7"/><circle cx="98" cy="524" r="6.7"/><circle cx="98" cy="520" r="6.7"/><circle cx="98" cy="478" r="6.7"/><circle cx="99" cy="479" r="6.7"/><circle cx="99" cy="476" r="6.7"/><circle cx="100" cy="511" r="6.7"/><circle cx="101" cy="474" r="6.7"/><circle cx="101" cy="483" r="6.7"/><circle cx="101" cy="514" r="6.7"/><circle cx="102" cy="518" r="6.7"/><circle cx="102" cy="482" r="6.7"/><circle cx="104" cy="513" r="6.7"/><circle cx="104" cy="499" r="6.7"/><circle cx="105" cy="517" r="6.7"/><circle cx="105" cy="484" r="6.7"/><circle cx="105" cy="511" r="6.7"/><circle cx="105" cy="494" r="6.7"/><circle cx="106" cy="518" r="6.7"/><circle cx="106" cy="475" r="6.7"/><circle cx="107" cy="505" r="6.7"/><circle cx="107" cy="501" r="6.7"/><circle cx="107" cy="523" r="6.7"/><circle cx="108" cy="509" r="6.7"/><circle cx="108" cy="479" r="6.7"/><circle cx="108" cy="502" r="6.7"/><circle cx="109" cy="521" r="6.7"/><circle cx="109" cy="500" r="6.7"/><circle cx="110" cy="524" r="6.7"/><circle cx="110" cy="508" r="6.7"/><circle cx="110" cy="503" r="6.7"/><circle cx="111" cy="516" r="6.7"/><circle cx="111" cy="484" r="6.7"/><circle cx="111" cy="515" r="6.7"/><circle cx="112" cy="521" r="6.7"/><circle cx="113" cy="487" r="6.7"/><circle cx="113" cy="524" r="6.7"/><circle cx="113" cy="517" r="6.7"/><circle cx="113" cy="492" r="6.7"/><circle cx="114" cy="475" r="6.7"/><circle cx="115" cy="474" r="6.7"/><circle cx="115" cy="489" r="6.7"/><circle cx="115" cy="493" r="6.7"/><circle cx="116" cy="474" r="6.7"/><circle cx="118" cy="477" r="6.7"/><circle cx="119" cy="506" r="6.7"/><circle cx="119" cy="497" r="6.7"/><circle cx="119" cy="510" r="6.7"/><circle cx="119" cy="484" r="6.7"/><circle cx="119" cy="513" r="6.7"/><circle cx="120" cy="490" r="6.7"/><circle cx="120" cy="515" r="6.7"/><circle cx="120" cy="504" r="6.7" class="g"/><circle cx="120" cy="523" r="6.7"/><circle cx="121" cy="499" r="6.7"/><circle cx="121" cy="495" r="6.7"/><circle cx="121" cy="479" r="6.7"/><circle cx="122" cy="496" r="6.7" class="g"/><circle cx="122" cy="517" r="6.7"/><circle cx="123" cy="504" r="6.7"/><circle cx="123" cy="498" r="6.7"/><circle cx="123" cy="476" r="6.7"/><circle cx="124" cy="492" r="6.7"/><circle cx="124" cy="489" r="6.7"/><circle cx="124" cy="510" r="6.7" class="g"/><circle cx="124" cy="513" r="6.7"/><circle cx="126" cy="478" r="6.7"/><circle cx="126" cy="480" r="6.7"/><circle cx="126" cy="509" r="6.7"/><circle cx="126" cy="482" r="6.7"/><circle cx="126" cy="492" r="6.7"/><circle cx="126" cy="475" r="6.7"/><circle cx="127" cy="515" r="6.7"/><circle cx="127" cy="524" r="6.7"/><circle cx="128" cy="505" r="6.7"/><circle cx="128" cy="508" r="6.7"/><circle cx="128" cy="495" r="6.7"/><circle cx="128" cy="493" r="6.7"/><circle cx="128" cy="475" r="6.7"/><circle cx="128" cy="517" r="6.7"/><circle cx="129" cy="514" r="6.7"/><circle cx="129" cy="478" r="6.7"/><circle cx="129" cy="522" r="6.7"/><circle cx="130" cy="510" r="6.7"/><circle cx="130" cy="474" r="6.7"/><circle cx="130" cy="480" r="6.7"/><circle cx="130" cy="517" r="6.7"/><circle cx="130" cy="504" r="6.7"/><circle cx="131" cy="485" r="6.7"/><circle cx="131" cy="489" r="6.7"/><circle cx="131" cy="473" r="6.7"/><circle cx="131" cy="483" r="6.7"/><circle cx="131" cy="503" r="6.7"/><circle cx="131" cy="479" r="6.7"/><circle cx="131" cy="512" r="6.7"/><circle cx="131" cy="493" r="6.7" class="g"/><circle cx="132" cy="512" r="6.7" class="g"/><circle cx="132" cy="503" r="6.7"/><circle cx="133" cy="503" r="6.7"/><circle cx="133" cy="479" r="6.7"/><circle cx="133" cy="483" r="6.7"/><circle cx="133" cy="479" r="6.7"/><circle cx="134" cy="486" r="6.7"/><circle cx="134" cy="507" r="6.7"/><circle cx="136" cy="507" r="6.7"/><circle cx="136" cy="482" r="6.7"/><circle cx="136" cy="511" r="6.7" class="g"/><circle cx="137" cy="471" r="6.7"/><circle cx="137" cy="492" r="6.7"/><circle cx="139" cy="478" r="6.7"/><circle cx="139" cy="506" r="6.7"/><circle cx="140" cy="487" r="6.7"/><circle cx="144" cy="484" r="6.7"/><circle cx="144" cy="523" r="6.7"/><circle cx="144" cy="521" r="6.7"/><circle cx="144" cy="518" r="6.7"/><circle cx="145" cy="495" r="6.7"/><circle cx="145" cy="501" r="6.7"/><circle cx="145" cy="524" r="6.7"/><circle cx="145" cy="509" r="6.7"/><circle cx="145" cy="509" r="6.7"/><circle cx="146" cy="506" r="6.7"/><circle cx="146" cy="523" r="6.7"/><circle cx="146" cy="473" r="6.7"/><circle cx="146" cy="513" r="6.7"/><circle cx="146" cy="497" r="6.7"/><circle cx="147" cy="485" r="6.7"/><circle cx="148" cy="515" r="6.7"/><circle cx="148" cy="514" r="6.7"/><circle cx="148" cy="500" r="6.7" class="g"/><circle cx="148" cy="521" r="6.7"/><circle cx="148" cy="507" r="6.7"/><circle cx="149" cy="521" r="6.7"/><circle cx="150" cy="470" r="6.7"/><circle cx="150" cy="521" r="6.7"/><circle cx="151" cy="523" r="6.7"/><circle cx="151" cy="516" r="6.7" class="g"/><circle cx="151" cy="492" r="6.7"/><circle cx="151" cy="513" r="6.7"/><circle cx="152" cy="520" r="6.7"/><circle cx="152" cy="493" r="6.7"/><circle cx="154" cy="497" r="6.7"/><circle cx="154" cy="510" r="6.7"/><circle cx="154" cy="511" r="6.7"/><circle cx="154" cy="503" r="6.7"/><circle cx="154" cy="510" r="6.7"/><circle cx="154" cy="509" r="6.7"/><circle cx="154" cy="486" r="6.7"/><circle cx="154" cy="499" r="6.7"/><circle cx="155" cy="482" r="6.7"/><circle cx="155" cy="484" r="6.7"/><circle cx="156" cy="475" r="6.7" class="g"/><circle cx="156" cy="505" r="6.7"/><circle cx="157" cy="516" r="6.7"/><circle cx="157" cy="504" r="6.7" class="g"/><circle cx="157" cy="503" r="6.7"/><circle cx="158" cy="496" r="6.7"/><circle cx="159" cy="513" r="6.7"/><circle cx="159" cy="513" r="6.7"/><circle cx="159" cy="497" r="6.7"/><circle cx="159" cy="470" r="6.7" class="g"/><circle cx="160" cy="516" r="6.7"/><circle cx="160" cy="511" r="6.7"/><circle cx="161" cy="484" r="6.7"/><circle cx="161" cy="522" r="6.7"/><circle cx="162" cy="470" r="6.7"/><circle cx="162" cy="497" r="6.7"/><circle cx="163" cy="514" r="6.7"/><circle cx="163" cy="489" r="6.7"/><circle cx="163" cy="515" r="6.7"/><circle cx="163" cy="515" r="6.7"/><circle cx="164" cy="498" r="6.7"/><circle cx="164" cy="490" r="6.7"/><circle cx="164" cy="523" r="6.7"/><circle cx="164" cy="510" r="6.7"/><circle cx="164" cy="521" r="6.7"/><circle cx="165" cy="510" r="6.7"/><circle cx="165" cy="476" r="6.7"/><circle cx="165" cy="490" r="6.7"/><circle cx="165" cy="505" r="6.7" class="g"/><circle cx="166" cy="492" r="6.7"/><circle cx="166" cy="483" r="6.7"/><circle cx="166" cy="491" r="6.7"/><circle cx="166" cy="479" r="6.7"/><circle cx="166" cy="501" r="6.7"/><circle cx="167" cy="475" r="6.7"/><circle cx="167" cy="479" r="6.7"/><circle cx="168" cy="486" r="6.7" class="g"/><circle cx="169" cy="480" r="6.7"/><circle cx="169" cy="484" r="6.7" class="g"/><circle cx="169" cy="491" r="6.7"/><circle cx="169" cy="511" r="6.7"/><circle cx="170" cy="485" r="6.7"/><circle cx="171" cy="491" r="6.7"/><circle cx="172" cy="484" r="6.7"/><circle cx="172" cy="499" r="6.7"/><circle cx="172" cy="518" r="6.7"/><circle cx="174" cy="481" r="6.7"/><circle cx="174" cy="523" r="6.7"/><circle cx="175" cy="490" r="6.7"/><circle cx="175" cy="503" r="6.7"/><circle cx="176" cy="513" r="6.7"/><circle cx="176" cy="479" r="6.7"/><circle cx="176" cy="509" r="6.7"/><circle cx="177" cy="483" r="6.7"/><circle cx="177" cy="521" r="6.7"/><circle cx="179" cy="515" r="6.7"/><circle cx="180" cy="507" r="6.7"/><circle cx="180" cy="489" r="6.7"/><circle cx="181" cy="500" r="6.7"/><circle cx="181" cy="486" r="6.7"/><circle cx="181" cy="521" r="6.7"/><circle cx="183" cy="497" r="6.7"/><circle cx="183" cy="497" r="6.7"/><circle cx="183" cy="501" r="6.7"/><circle cx="184" cy="506" r="6.7"/><circle cx="184" cy="472" r="6.7" class="g"/><circle cx="184" cy="520" r="6.7"/><circle cx="185" cy="484" r="6.7"/><circle cx="186" cy="484" r="6.7"/><circle cx="186" cy="494" r="6.7"/><circle cx="187" cy="504" r="6.7" class="g"/><circle cx="187" cy="509" r="6.7"/><circle cx="188" cy="489" r="6.7" class="g"/><circle cx="188" cy="494" r="6.7"/><circle cx="189" cy="471" r="6.7"/><circle cx="189" cy="507" r="6.7"/><circle cx="189" cy="489" r="6.7" class="g"/><circle cx="190" cy="507" r="6.7"/><circle cx="190" cy="501" r="6.7"/><circle cx="190" cy="485" r="6.7"/><circle cx="190" cy="499" r="6.7"/><circle cx="190" cy="492" r="6.7"/><circle cx="191" cy="516" r="6.7"/><circle cx="192" cy="524" r="6.7"/><circle cx="194" cy="476" r="6.7" class="g"/><circle cx="194" cy="474" r="6.7"/><circle cx="194" cy="524" r="6.7"/><circle cx="194" cy="523" r="6.7"/><circle cx="196" cy="516" r="6.7"/><circle cx="197" cy="481" r="6.7"/><circle cx="197" cy="514" r="6.7"/><circle cx="197" cy="490" r="6.7"/><circle cx="197" cy="515" r="6.7"/><circle cx="198" cy="510" r="6.7"/><circle cx="199" cy="524" r="6.7" class="g"/><circle cx="199" cy="486" r="6.7"/><circle cx="201" cy="524" r="6.7"/><circle cx="201" cy="494" r="6.7"/><circle cx="202" cy="507" r="6.7"/><circle cx="202" cy="504" r="6.7"/><circle cx="202" cy="499" r="6.7"/><circle cx="203" cy="516" r="6.7"/><circle cx="203" cy="514" r="6.7"/><circle cx="203" cy="512" r="6.7" class="g"/><circle cx="204" cy="502" r="6.7"/><circle cx="205" cy="494" r="6.7"/><circle cx="206" cy="513" r="6.7"/><circle cx="207" cy="478" r="6.7"/><circle cx="207" cy="498" r="6.7"/><circle cx="207" cy="473" r="6.7"/><circle cx="208" cy="477" r="6.7"/><circle cx="209" cy="517" r="6.7"/><circle cx="210" cy="475" r="6.7"/><circle cx="210" cy="493" r="6.7"/><circle cx="210" cy="497" r="6.7"/><circle cx="211" cy="488" r="6.7"/><circle cx="211" cy="525" r="6.7"/><circle cx="211" cy="495" r="6.7"/><circle cx="211" cy="515" r="6.7"/><circle cx="212" cy="508" r="6.7"/><circle cx="212" cy="481" r="6.7"/><circle cx="212" cy="504" r="6.7"/><circle cx="212" cy="482" r="6.7" class="g"/><circle cx="213" cy="509" r="6.7"/><circle cx="214" cy="486" r="6.7"/><circle cx="215" cy="487" r="6.7"/><circle cx="215" cy="504" r="6.7"/><circle cx="215" cy="479" r="6.7"/><circle cx="216" cy="515" r="6.7"/><circle cx="216" cy="480" r="6.7"/><circle cx="216" cy="487" r="6.7"/><circle cx="217" cy="509" r="6.7"/><circle cx="217" cy="478" r="6.7"/><circle cx="217" cy="476" r="6.7" class="g"/><circle cx="217" cy="502" r="6.7" class="g"/><circle cx="217" cy="484" r="6.7"/><circle cx="217" cy="503" r="6.7"/><circle cx="218" cy="517" r="6.7"/><circle cx="218" cy="522" r="6.7"/><circle cx="218" cy="485" r="6.7"/><circle cx="218" cy="489" r="6.7" class="g"/><circle cx="219" cy="523" r="6.7"/><circle cx="219" cy="522" r="6.7"/><circle cx="219" cy="496" r="6.7"/><circle cx="220" cy="485" r="6.7"/><circle cx="221" cy="508" r="6.7"/><circle cx="221" cy="476" r="6.7"/><circle cx="222" cy="522" r="6.7" class="g"/><circle cx="222" cy="513" r="6.7"/><circle cx="223" cy="513" r="6.7"/><circle cx="223" cy="483" r="6.7"/><circle cx="224" cy="520" r="6.7"/><circle cx="224" cy="496" r="6.7"/><circle cx="224" cy="484" r="6.7"/><circle cx="224" cy="497" r="6.7"/><circle cx="224" cy="490" r="6.7"/><circle cx="225" cy="477" r="6.7" class="g"/><circle cx="227" cy="506" r="6.7"/><circle cx="227" cy="515" r="6.7"/><circle cx="227" cy="483" r="6.7"/><circle cx="228" cy="510" r="6.7"/><circle cx="228" cy="516" r="6.7"/><circle cx="228" cy="472" r="6.7"/><circle cx="228" cy="498" r="6.7"/><circle cx="228" cy="495" r="6.7"/><circle cx="229" cy="509" r="6.7"/><circle cx="230" cy="496" r="6.7"/><circle cx="230" cy="491" r="6.7"/><circle cx="230" cy="505" r="6.7"/><circle cx="230" cy="491" r="6.7"/><circle cx="231" cy="499" r="6.7" class="g"/><circle cx="231" cy="511" r="6.7"/><circle cx="231" cy="511" r="6.7"/><circle cx="232" cy="499" r="6.7"/><circle cx="232" cy="491" r="6.7"/><circle cx="233" cy="508" r="6.7"/><circle cx="233" cy="507" r="6.7"/><circle cx="233" cy="487" r="6.7"/><circle cx="234" cy="525" r="6.7"/><circle cx="234" cy="488" r="6.7"/><circle cx="234" cy="522" r="6.7"/><circle cx="236" cy="515" r="6.7"/><circle cx="236" cy="515" r="6.7"/><circle cx="236" cy="487" r="6.7"/><circle cx="237" cy="484" r="6.7"/><circle cx="237" cy="487" r="6.7"/><circle cx="237" cy="508" r="6.7"/><circle cx="238" cy="482" r="6.7"/><circle cx="238" cy="478" r="6.7"/><circle cx="238" cy="512" r="6.7"/></g>
<g id="t3" transform="scale(.92 1)"><circle cx="0" cy="485" r="6.7"/><circle cx="0" cy="470" r="6.7"/><circle cx="1" cy="516" r="6.7"/><circle cx="2" cy="473" r="6.7"/><circle cx="2" cy="518" r="6.7" class="g"/><circle cx="3" cy="494" r="6.7"/><circle cx="3" cy="507" r="6.7"/><circle cx="4" cy="483" r="6.7"/><circle cx="4" cy="495" r="6.7"/><circle cx="5" cy="473" r="6.7"/><circle cx="5" cy="511" r="6.7"/><circle cx="6" cy="494" r="6.7"/><circle cx="6" cy="476" r="6.7"/><circle cx="7" cy="519" r="6.7"/><circle cx="8" cy="514" r="6.7"/><circle cx="9" cy="525" r="6.7"/><circle cx="9" cy="471" r="6.7"/><circle cx="10" cy="482" r="6.7"/><circle cx="10" cy="480" r="6.7" class="g"/><circle cx="12" cy="513" r="6.7" class="g"/><circle cx="12" cy="493" r="6.7"/><circle cx="14" cy="508" r="6.7" class="g"/><circle cx="15" cy="504" r="6.7" class="g"/><circle cx="15" cy="482" r="6.7"/><circle cx="16" cy="509" r="6.7"/><circle cx="17" cy="523" r="6.7"/><circle cx="17" cy="496" r="6.7"/><circle cx="18" cy="521" r="6.7"/><circle cx="18" cy="498" r="6.7"/><circle cx="18" cy="485" r="6.7" class="g"/><circle cx="18" cy="475" r="6.7"/><circle cx="19" cy="475" r="6.7"/><circle cx="19" cy="500" r="6.7"/><circle cx="19" cy="474" r="6.7"/><circle cx="19" cy="520" r="6.7"/><circle cx="19" cy="478" r="6.7"/><circle cx="19" cy="521" r="6.7"/><circle cx="20" cy="505" r="6.7"/><circle cx="21" cy="520" r="6.7"/><circle cx="21" cy="478" r="6.7"/><circle cx="21" cy="522" r="6.7"/><circle cx="22" cy="492" r="6.7"/><circle cx="22" cy="523" r="6.7"/><circle cx="23" cy="485" r="6.7"/><circle cx="23" cy="496" r="6.7"/><circle cx="23" cy="495" r="6.7"/><circle cx="23" cy="489" r="6.7"/><circle cx="24" cy="490" r="6.7"/><circle cx="24" cy="502" r="6.7"/><circle cx="24" cy="514" r="6.7"/><circle cx="25" cy="501" r="6.7"/><circle cx="26" cy="473" r="6.7"/><circle cx="26" cy="501" r="6.7"/><circle cx="26" cy="471" r="6.7"/><circle cx="26" cy="481" r="6.7"/><circle cx="26" cy="521" r="6.7"/><circle cx="27" cy="516" r="6.7"/><circle cx="27" cy="500" r="6.7"/><circle cx="27" cy="471" r="6.7"/><circle cx="27" cy="509" r="6.7"/><circle cx="28" cy="521" r="6.7"/><circle cx="28" cy="472" r="6.7"/><circle cx="29" cy="485" r="6.7"/><circle cx="29" cy="496" r="6.7" class="g"/><circle cx="31" cy="483" r="6.7"/><circle cx="31" cy="475" r="6.7"/><circle cx="31" cy="475" r="6.7"/><circle cx="32" cy="481" r="6.7"/><circle cx="32" cy="508" r="6.7" class="g"/><circle cx="32" cy="497" r="6.7"/><circle cx="33" cy="506" r="6.7"/><circle cx="33" cy="488" r="6.7"/><circle cx="33" cy="503" r="6.7" class="g"/><circle cx="33" cy="491" r="6.7"/><circle cx="34" cy="500" r="6.7"/><circle cx="34" cy="519" r="6.7"/><circle cx="34" cy="519" r="6.7" class="g"/><circle cx="34" cy="476" r="6.7" class="g"/><circle cx="35" cy="519" r="6.7"/><circle cx="35" cy="522" r="6.7"/><circle cx="35" cy="496" r="6.7"/><circle cx="36" cy="476" r="6.7"/><circle cx="37" cy="506" r="6.7"/><circle cx="37" cy="496" r="6.7"/><circle cx="37" cy="483" r="6.7"/><circle cx="38" cy="486" r="6.7"/><circle cx="38" cy="508" r="6.7"/><circle cx="40" cy="478" r="6.7" class="g"/><circle cx="40" cy="471" r="6.7"/><circle cx="40" cy="494" r="6.7" class="g"/><circle cx="40" cy="474" r="6.7"/><circle cx="40" cy="482" r="6.7"/><circle cx="40" cy="505" r="6.7"/><circle cx="41" cy="506" r="6.7"/><circle cx="42" cy="512" r="6.7" class="g"/><circle cx="43" cy="484" r="6.7"/><circle cx="43" cy="495" r="6.7"/><circle cx="43" cy="501" r="6.7"/><circle cx="44" cy="524" r="6.7"/><circle cx="44" cy="502" r="6.7"/><circle cx="44" cy="522" r="6.7"/><circle cx="45" cy="485" r="6.7"/><circle cx="45" cy="479" r="6.7"/><circle cx="45" cy="489" r="6.7"/><circle cx="45" cy="506" r="6.7"/><circle cx="46" cy="524" r="6.7"/><circle cx="46" cy="518" r="6.7"/><circle cx="46" cy="480" r="6.7"/><circle cx="46" cy="499" r="6.7"/><circle cx="47" cy="481" r="6.7"/><circle cx="48" cy="522" r="6.7"/><circle cx="49" cy="472" r="6.7"/><circle cx="49" cy="516" r="6.7"/><circle cx="49" cy="519" r="6.7"/><circle cx="49" cy="522" r="6.7"/><circle cx="49" cy="500" r="6.7"/><circle cx="50" cy="503" r="6.7"/><circle cx="50" cy="497" r="6.7"/><circle cx="50" cy="516" r="6.7"/><circle cx="50" cy="485" r="6.7"/><circle cx="50" cy="478" r="6.7"/><circle cx="50" cy="471" r="6.7"/><circle cx="50" cy="502" r="6.7"/><circle cx="51" cy="496" r="6.7"/><circle cx="51" cy="511" r="6.7"/><circle cx="51" cy="474" r="6.7" class="g"/><circle cx="51" cy="483" r="6.7" class="g"/><circle cx="51" cy="494" r="6.7" class="g"/><circle cx="51" cy="525" r="6.7"/><circle cx="51" cy="492" r="6.7" class="g"/><circle cx="52" cy="481" r="6.7"/><circle cx="52" cy="515" r="6.7"/><circle cx="53" cy="493" r="6.7"/><circle cx="54" cy="507" r="6.7"/><circle cx="54" cy="524" r="6.7"/><circle cx="54" cy="519" r="6.7"/><circle cx="55" cy="472" r="6.7"/><circle cx="55" cy="509" r="6.7"/><circle cx="55" cy="524" r="6.7"/><circle cx="56" cy="507" r="6.7"/><circle cx="57" cy="523" r="6.7"/><circle cx="57" cy="488" r="6.7"/><circle cx="58" cy="517" r="6.7"/><circle cx="58" cy="484" r="6.7"/><circle cx="58" cy="518" r="6.7"/><circle cx="59" cy="482" r="6.7"/><circle cx="59" cy="507" r="6.7" class="g"/><circle cx="59" cy="502" r="6.7"/><circle cx="60" cy="524" r="6.7"/><circle cx="61" cy="508" r="6.7"/><circle cx="61" cy="503" r="6.7"/><circle cx="62" cy="495" r="6.7"/><circle cx="63" cy="496" r="6.7"/><circle cx="63" cy="479" r="6.7"/><circle cx="63" cy="513" r="6.7" class="g"/><circle cx="64" cy="490" r="6.7"/><circle cx="65" cy="507" r="6.7"/><circle cx="65" cy="514" r="6.7"/><circle cx="65" cy="523" r="6.7"/><circle cx="66" cy="485" r="6.7"/><circle cx="67" cy="483" r="6.7"/><circle cx="67" cy="517" r="6.7"/><circle cx="67" cy="512" r="6.7"/><circle cx="68" cy="511" r="6.7"/><circle cx="68" cy="471" r="6.7"/><circle cx="69" cy="521" r="6.7"/><circle cx="70" cy="506" r="6.7"/><circle cx="70" cy="481" r="6.7"/><circle cx="70" cy="520" r="6.7"/><circle cx="70" cy="477" r="6.7"/><circle cx="70" cy="518" r="6.7"/><circle cx="70" cy="487" r="6.7"/><circle cx="71" cy="484" r="6.7"/><circle cx="71" cy="507" r="6.7"/><circle cx="72" cy="513" r="6.7"/><circle cx="74" cy="517" r="6.7"/><circle cx="74" cy="485" r="6.7"/><circle cx="74" cy="482" r="6.7"/><circle cx="74" cy="501" r="6.7"/><circle cx="75" cy="520" r="6.7"/><circle cx="75" cy="471" r="6.7"/><circle cx="76" cy="478" r="6.7"/><circle cx="76" cy="493" r="6.7"/><circle cx="76" cy="519" r="6.7"/><circle cx="76" cy="523" r="6.7"/><circle cx="76" cy="487" r="6.7"/><circle cx="76" cy="519" r="6.7"/><circle cx="77" cy="474" r="6.7" class="g"/><circle cx="77" cy="505" r="6.7"/><circle cx="77" cy="519" r="6.7"/><circle cx="77" cy="484" r="6.7"/><circle cx="78" cy="525" r="6.7"/><circle cx="79" cy="501" r="6.7"/><circle cx="80" cy="480" r="6.7"/><circle cx="80" cy="489" r="6.7"/><circle cx="80" cy="478" r="6.7"/><circle cx="80" cy="521" r="6.7"/><circle cx="81" cy="518" r="6.7"/><circle cx="81" cy="504" r="6.7"/><circle cx="81" cy="491" r="6.7"/><circle cx="81" cy="475" r="6.7"/><circle cx="82" cy="514" r="6.7"/><circle cx="83" cy="503" r="6.7"/><circle cx="83" cy="514" r="6.7"/><circle cx="83" cy="522" r="6.7"/><circle cx="83" cy="514" r="6.7"/><circle cx="83" cy="521" r="6.7"/><circle cx="84" cy="470" r="6.7"/><circle cx="84" cy="521" r="6.7"/><circle cx="85" cy="510" r="6.7"/><circle cx="85" cy="496" r="6.7"/><circle cx="85" cy="509" r="6.7"/><circle cx="86" cy="502" r="6.7"/><circle cx="86" cy="497" r="6.7"/><circle cx="87" cy="510" r="6.7"/><circle cx="87" cy="522" r="6.7"/><circle cx="87" cy="513" r="6.7"/><circle cx="87" cy="479" r="6.7"/><circle cx="87" cy="480" r="6.7"/><circle cx="88" cy="516" r="6.7"/><circle cx="89" cy="487" r="6.7"/><circle cx="89" cy="478" r="6.7"/><circle cx="90" cy="525" r="6.7"/><circle cx="90" cy="493" r="6.7"/><circle cx="90" cy="489" r="6.7"/><circle cx="92" cy="490" r="6.7"/><circle cx="92" cy="495" r="6.7"/><circle cx="92" cy="505" r="6.7"/><circle cx="93" cy="512" r="6.7"/><circle cx="93" cy="513" r="6.7"/><circle cx="94" cy="473" r="6.7"/><circle cx="94" cy="473" r="6.7"/><circle cx="95" cy="478" r="6.7"/><circle cx="96" cy="505" r="6.7"/><circle cx="96" cy="487" r="6.7"/><circle cx="97" cy="474" r="6.7"/><circle cx="97" cy="519" r="6.7"/><circle cx="97" cy="492" r="6.7"/><circle cx="98" cy="515" r="6.7"/><circle cx="98" cy="497" r="6.7"/><circle cx="98" cy="495" r="6.7"/><circle cx="98" cy="524" r="6.7"/><circle cx="99" cy="503" r="6.7"/><circle cx="100" cy="472" r="6.7" class="g"/><circle cx="101" cy="496" r="6.7" class="g"/><circle cx="101" cy="471" r="6.7"/><circle cx="101" cy="524" r="6.7"/><circle cx="102" cy="519" r="6.7"/><circle cx="102" cy="519" r="6.7"/><circle cx="104" cy="476" r="6.7"/><circle cx="104" cy="485" r="6.7"/><circle cx="104" cy="488" r="6.7"/><circle cx="104" cy="490" r="6.7"/><circle cx="105" cy="521" r="6.7" class="g"/><circle cx="106" cy="500" r="6.7"/><circle cx="106" cy="515" r="6.7"/><circle cx="108" cy="493" r="6.7"/><circle cx="108" cy="517" r="6.7"/><circle cx="109" cy="524" r="6.7"/><circle cx="110" cy="474" r="6.7"/><circle cx="110" cy="493" r="6.7" class="g"/><circle cx="111" cy="488" r="6.7"/><circle cx="111" cy="522" r="6.7"/><circle cx="111" cy="521" r="6.7"/><circle cx="112" cy="476" r="6.7"/><circle cx="112" cy="487" r="6.7"/><circle cx="113" cy="483" r="6.7"/><circle cx="114" cy="510" r="6.7"/><circle cx="114" cy="511" r="6.7"/><circle cx="115" cy="494" r="6.7"/><circle cx="116" cy="485" r="6.7"/><circle cx="116" cy="515" r="6.7"/><circle cx="116" cy="485" r="6.7"/><circle cx="116" cy="471" r="6.7"/><circle cx="116" cy="498" r="6.7"/><circle cx="116" cy="518" r="6.7"/><circle cx="116" cy="518" r="6.7"/><circle cx="117" cy="504" r="6.7"/><circle cx="117" cy="507" r="6.7"/><circle cx="118" cy="512" r="6.7"/><circle cx="118" cy="509" r="6.7"/><circle cx="118" cy="509" r="6.7"/><circle cx="118" cy="500" r="6.7"/><circle cx="118" cy="515" r="6.7"/><circle cx="118" cy="517" r="6.7"/><circle cx="119" cy="490" r="6.7"/><circle cx="120" cy="524" r="6.7"/><circle cx="120" cy="505" r="6.7"/><circle cx="121" cy="475" r="6.7"/><circle cx="121" cy="510" r="6.7"/><circle cx="122" cy="483" r="6.7"/><circle cx="122" cy="474" r="6.7"/><circle cx="122" cy="518" r="6.7"/><circle cx="123" cy="505" r="6.7"/><circle cx="123" cy="500" r="6.7"/><circle cx="124" cy="491" r="6.7"/><circle cx="125" cy="516" r="6.7"/><circle cx="125" cy="490" r="6.7"/><circle cx="125" cy="515" r="6.7" class="g"/><circle cx="126" cy="507" r="6.7"/><circle cx="126" cy="484" r="6.7" class="g"/><circle cx="127" cy="512" r="6.7"/><circle cx="128" cy="519" r="6.7"/><circle cx="128" cy="523" r="6.7"/><circle cx="128" cy="482" r="6.7"/><circle cx="129" cy="482" r="6.7"/><circle cx="129" cy="521" r="6.7"/><circle cx="129" cy="478" r="6.7"/><circle cx="129" cy="524" r="6.7"/><circle cx="130" cy="525" r="6.7"/><circle cx="131" cy="500" r="6.7"/><circle cx="131" cy="515" r="6.7"/><circle cx="131" cy="509" r="6.7"/><circle cx="132" cy="502" r="6.7"/><circle cx="134" cy="514" r="6.7"/><circle cx="134" cy="492" r="6.7"/><circle cx="135" cy="472" r="6.7"/><circle cx="135" cy="472" r="6.7"/><circle cx="136" cy="478" r="6.7"/><circle cx="136" cy="516" r="6.7"/><circle cx="136" cy="523" r="6.7"/><circle cx="137" cy="504" r="6.7"/><circle cx="138" cy="488" r="6.7"/><circle cx="138" cy="496" r="6.7"/><circle cx="139" cy="479" r="6.7" class="g"/><circle cx="139" cy="513" r="6.7"/><circle cx="140" cy="504" r="6.7"/><circle cx="140" cy="518" r="6.7"/><circle cx="140" cy="506" r="6.7"/><circle cx="141" cy="517" r="6.7"/><circle cx="141" cy="507" r="6.7"/><circle cx="141" cy="493" r="6.7"/><circle cx="142" cy="506" r="6.7"/><circle cx="142" cy="518" r="6.7"/><circle cx="142" cy="483" r="6.7"/><circle cx="142" cy="506" r="6.7"/><circle cx="142" cy="481" r="6.7"/><circle cx="143" cy="478" r="6.7"/><circle cx="143" cy="519" r="6.7"/><circle cx="144" cy="510" r="6.7"/><circle cx="145" cy="474" r="6.7"/><circle cx="145" cy="513" r="6.7"/><circle cx="145" cy="477" r="6.7"/><circle cx="146" cy="495" r="6.7"/><circle cx="147" cy="483" r="6.7"/><circle cx="147" cy="485" r="6.7"/><circle cx="147" cy="507" r="6.7"/><circle cx="147" cy="472" r="6.7"/><circle cx="148" cy="505" r="6.7"/><circle cx="149" cy="483" r="6.7"/><circle cx="149" cy="502" r="6.7" class="g"/><circle cx="150" cy="493" r="6.7"/><circle cx="150" cy="501" r="6.7"/><circle cx="150" cy="474" r="6.7"/><circle cx="151" cy="476" r="6.7"/><circle cx="151" cy="524" r="6.7"/><circle cx="151" cy="476" r="6.7"/><circle cx="152" cy="499" r="6.7"/><circle cx="153" cy="514" r="6.7"/><circle cx="154" cy="484" r="6.7"/><circle cx="154" cy="515" r="6.7"/><circle cx="154" cy="516" r="6.7"/><circle cx="155" cy="521" r="6.7"/><circle cx="155" cy="486" r="6.7"/><circle cx="157" cy="483" r="6.7"/><circle cx="157" cy="523" r="6.7"/><circle cx="157" cy="500" r="6.7"/><circle cx="157" cy="524" r="6.7"/><circle cx="157" cy="518" r="6.7"/><circle cx="159" cy="522" r="6.7"/><circle cx="159" cy="475" r="6.7"/><circle cx="160" cy="490" r="6.7" class="g"/><circle cx="160" cy="510" r="6.7" class="g"/><circle cx="160" cy="490" r="6.7"/><circle cx="161" cy="481" r="6.7"/><circle cx="162" cy="512" r="6.7"/><circle cx="163" cy="519" r="6.7"/><circle cx="163" cy="492" r="6.7"/><circle cx="164" cy="522" r="6.7"/><circle cx="164" cy="498" r="6.7"/><circle cx="164" cy="495" r="6.7"/><circle cx="165" cy="523" r="6.7"/><circle cx="168" cy="509" r="6.7"/><circle cx="168" cy="514" r="6.7"/><circle cx="169" cy="494" r="6.7"/><circle cx="169" cy="481" r="6.7"/><circle cx="170" cy="482" r="6.7"/><circle cx="170" cy="475" r="6.7"/><circle cx="170" cy="490" r="6.7"/><circle cx="171" cy="506" r="6.7" class="g"/><circle cx="171" cy="503" r="6.7"/><circle cx="171" cy="504" r="6.7"/><circle cx="172" cy="499" r="6.7"/><circle cx="172" cy="523" r="6.7"/><circle cx="173" cy="519" r="6.7"/><circle cx="173" cy="489" r="6.7"/><circle cx="173" cy="501" r="6.7"/><circle cx="173" cy="512" r="6.7" class="g"/><circle cx="174" cy="517" r="6.7"/><circle cx="174" cy="499" r="6.7"/><circle cx="174" cy="489" r="6.7"/><circle cx="174" cy="492" r="6.7"/><circle cx="176" cy="511" r="6.7"/><circle cx="177" cy="470" r="6.7"/><circle cx="177" cy="493" r="6.7"/><circle cx="178" cy="495" r="6.7" class="g"/><circle cx="178" cy="509" r="6.7"/><circle cx="178" cy="483" r="6.7"/><circle cx="179" cy="499" r="6.7"/><circle cx="180" cy="479" r="6.7"/><circle cx="180" cy="505" r="6.7"/><circle cx="180" cy="507" r="6.7"/><circle cx="180" cy="510" r="6.7"/><circle cx="180" cy="522" r="6.7" class="g"/><circle cx="181" cy="470" r="6.7"/><circle cx="181" cy="471" r="6.7"/><circle cx="181" cy="489" r="6.7"/><circle cx="181" cy="500" r="6.7"/><circle cx="182" cy="471" r="6.7"/><circle cx="182" cy="481" r="6.7"/><circle cx="182" cy="476" r="6.7" class="g"/><circle cx="182" cy="490" r="6.7"/><circle cx="182" cy="497" r="6.7"/><circle cx="182" cy="501" r="6.7"/><circle cx="185" cy="485" r="6.7"/><circle cx="186" cy="487" r="6.7"/><circle cx="186" cy="497" r="6.7" class="g"/><circle cx="186" cy="490" r="6.7"/><circle cx="187" cy="494" r="6.7" class="g"/><circle cx="187" cy="519" r="6.7"/><circle cx="187" cy="492" r="6.7"/><circle cx="187" cy="514" r="6.7"/><circle cx="187" cy="501" r="6.7"/><circle cx="188" cy="501" r="6.7"/><circle cx="188" cy="497" r="6.7"/><circle cx="188" cy="521" r="6.7" class="g"/><circle cx="189" cy="489" r="6.7"/><circle cx="189" cy="482" r="6.7"/><circle cx="190" cy="511" r="6.7"/><circle cx="190" cy="522" r="6.7"/><circle cx="190" cy="512" r="6.7"/><circle cx="191" cy="497" r="6.7"/><circle cx="191" cy="499" r="6.7"/><circle cx="191" cy="486" r="6.7" class="g"/><circle cx="192" cy="517" r="6.7"/><circle cx="192" cy="483" r="6.7"/><circle cx="192" cy="494" r="6.7"/><circle cx="192" cy="506" r="6.7"/><circle cx="192" cy="511" r="6.7"/><circle cx="193" cy="498" r="6.7"/><circle cx="194" cy="514" r="6.7"/><circle cx="194" cy="508" r="6.7"/><circle cx="194" cy="501" r="6.7"/><circle cx="194" cy="516" r="6.7"/><circle cx="195" cy="480" r="6.7" class="g"/><circle cx="196" cy="504" r="6.7"/><circle cx="196" cy="475" r="6.7"/><circle cx="196" cy="510" r="6.7"/><circle cx="196" cy="488" r="6.7" class="g"/><circle cx="196" cy="488" r="6.7"/><circle cx="197" cy="493" r="6.7"/><circle cx="197" cy="491" r="6.7"/><circle cx="198" cy="502" r="6.7"/><circle cx="198" cy="508" r="6.7"/><circle cx="198" cy="502" r="6.7"/><circle cx="199" cy="504" r="6.7"/><circle cx="199" cy="492" r="6.7"/><circle cx="199" cy="503" r="6.7"/><circle cx="199" cy="510" r="6.7"/><circle cx="200" cy="520" r="6.7"/><circle cx="200" cy="518" r="6.7"/><circle cx="200" cy="509" r="6.7"/><circle cx="200" cy="488" r="6.7"/><circle cx="201" cy="510" r="6.7"/><circle cx="201" cy="500" r="6.7"/><circle cx="201" cy="511" r="6.7"/><circle cx="201" cy="513" r="6.7"/><circle cx="202" cy="491" r="6.7"/><circle cx="202" cy="499" r="6.7"/><circle cx="204" cy="522" r="6.7"/><circle cx="204" cy="507" r="6.7"/><circle cx="204" cy="506" r="6.7"/><circle cx="204" cy="472" r="6.7"/><circle cx="205" cy="520" r="6.7"/><circle cx="206" cy="499" r="6.7"/><circle cx="207" cy="481" r="6.7" class="g"/><circle cx="207" cy="518" r="6.7"/><circle cx="207" cy="515" r="6.7"/><circle cx="208" cy="500" r="6.7"/><circle cx="208" cy="492" r="6.7"/><circle cx="208" cy="519" r="6.7"/><circle cx="208" cy="474" r="6.7"/><circle cx="209" cy="520" r="6.7"/><circle cx="209" cy="475" r="6.7"/><circle cx="209" cy="513" r="6.7"/><circle cx="209" cy="518" r="6.7"/><circle cx="210" cy="524" r="6.7"/><circle cx="210" cy="503" r="6.7"/><circle cx="211" cy="483" r="6.7"/><circle cx="211" cy="508" r="6.7"/><circle cx="213" cy="484" r="6.7"/><circle cx="214" cy="498" r="6.7"/><circle cx="216" cy="521" r="6.7"/><circle cx="216" cy="508" r="6.7"/><circle cx="217" cy="486" r="6.7"/><circle cx="217" cy="517" r="6.7"/><circle cx="218" cy="517" r="6.7"/><circle cx="218" cy="474" r="6.7"/><circle cx="218" cy="496" r="6.7"/><circle cx="218" cy="523" r="6.7"/><circle cx="218" cy="495" r="6.7"/><circle cx="218" cy="496" r="6.7"/><circle cx="219" cy="520" r="6.7"/><circle cx="220" cy="503" r="6.7"/><circle cx="220" cy="520" r="6.7"/><circle cx="221" cy="489" r="6.7"/><circle cx="221" cy="519" r="6.7"/><circle cx="221" cy="524" r="6.7"/><circle cx="221" cy="495" r="6.7"/><circle cx="221" cy="495" r="6.7"/><circle cx="221" cy="478" r="6.7"/><circle cx="221" cy="501" r="6.7"/><circle cx="221" cy="500" r="6.7"/><circle cx="223" cy="501" r="6.7"/><circle cx="223" cy="501" r="6.7"/><circle cx="224" cy="479" r="6.7"/><circle cx="224" cy="512" r="6.7"/><circle cx="224" cy="492" r="6.7"/><circle cx="224" cy="500" r="6.7"/><circle cx="225" cy="508" r="6.7" class="g"/><circle cx="226" cy="474" r="6.7"/><circle cx="226" cy="481" r="6.7"/><circle cx="226" cy="509" r="6.7"/><circle cx="226" cy="512" r="6.7"/><circle cx="227" cy="498" r="6.7"/><circle cx="228" cy="507" r="6.7"/><circle cx="228" cy="493" r="6.7"/><circle cx="229" cy="520" r="6.7"/><circle cx="229" cy="499" r="6.7"/><circle cx="231" cy="498" r="6.7"/><circle cx="231" cy="490" r="6.7"/><circle cx="231" cy="470" r="6.7"/><circle cx="231" cy="494" r="6.7"/><circle cx="231" cy="511" r="6.7"/><circle cx="232" cy="514" r="6.7"/><circle cx="232" cy="483" r="6.7"/><circle cx="232" cy="497" r="6.7"/><circle cx="232" cy="492" r="6.7"/><circle cx="233" cy="506" r="6.7"/><circle cx="234" cy="495" r="6.7"/><circle cx="234" cy="513" r="6.7"/><circle cx="234" cy="501" r="6.7" class="g"/><circle cx="235" cy="475" r="6.7"/><circle cx="235" cy="491" r="6.7"/><circle cx="235" cy="518" r="6.7" class="g"/><circle cx="236" cy="508" r="6.7" class="g"/><circle cx="236" cy="516" r="6.7" class="g"/><circle cx="237" cy="506" r="6.7"/><circle cx="237" cy="496" r="6.7"/><circle cx="238" cy="475" r="6.7"/></g>
</defs>
<style>.g{fill:#a19d96;stroke:#4a4743}.c{fill:#4fb9cc;stroke:#2f7f8d}.n{fill:#74c13e;stroke:#4f8a2a}</style>
<line x1="138.5" y1="68.3" x2="1892.2" y2="68.3" stroke="#d3d0c8" stroke-width="2"/>
<line x1="136.1" y1="223" x2="1882.2" y2="223" stroke="#c9c7bf" stroke-width="6.5" stroke-dasharray="19.55 19.54"/>
<g clip-path="url(#cp)">
<polyline fill="none" stroke="#1b2c9e" stroke-width="2.1" stroke-linejoin="round" points="138,522 171,522 172,436 173,522 471,522 474.5,345 476,345 479,522 746,522 751.5,391.5 764.5,391.5 767,470 769,522 915,522 918,409 920,409 924,440 928,480 929,522 1098,522 1101,452 1105,470 1107,522 1890,522"/>
<g fill="#2e1a94" stroke="#170c55" stroke-width="0.85">
<use href="#d" x="142" y="469"/>
<use href="#u" x="146" y="457"/>
<use href="#d" x="147" y="471"/>
<use href="#u" x="154" y="465"/>
<use href="#u" x="162" y="470"/>
<use href="#u" x="170" y="464"/>
<use href="#d" x="193" y="463"/>
<use href="#u" x="195" y="470"/>
<use href="#u" x="205" y="462"/>
<use href="#d" x="217" y="466"/>
<use href="#u" x="220" y="462"/>
<use href="#d" x="220" y="468"/>
<use href="#d" x="224" y="461" class="g"/>
<use href="#d" x="230" y="470"/>
<use href="#d" x="243" y="471"/>
<use href="#d" x="246" y="471"/>
<use href="#u" x="247" y="469"/>
<use href="#u" x="265" y="471"/>
<use href="#d" x="270" y="470"/>
<use href="#d" x="271" y="465"/>
<use href="#u" x="287" y="459"/>
<use href="#u" x="291" y="460"/>
<use href="#u" x="331" y="458" class="g"/>
<use href="#u" x="336" y="467"/>
<use href="#d" x="340" y="459"/>
<use href="#u" x="344" y="460"/>
<use href="#u" x="345" y="469"/>
<use href="#d" x="348" y="466"/>
<use href="#u" x="351" y="460"/>
<use href="#t0" x="139"/>
<use href="#d" x="145" y="448"/>
<use href="#d" x="146" y="445" class="g"/>
<use href="#u" x="150" y="447"/>
<use href="#u" x="154" y="460"/>
<use href="#u" x="156" y="453"/>
<use href="#u" x="159" y="402"/>
<use href="#u" x="162" y="393"/>
<use href="#d" x="163" y="375"/>
<use href="#u" x="165" y="374"/>
<use href="#d" x="168" y="350"/>
<use href="#d" x="169" y="465"/>
<use href="#u" x="169" y="397"/>
<use href="#d" x="169" y="397"/>
<use href="#d" x="170" y="451"/>
<use href="#u" x="172" y="386"/>
<use href="#d" x="173" y="373"/>
<use href="#d" x="173" y="372"/>
<use href="#u" x="173" y="385"/>
<use href="#u" x="173" y="362"/>
<use href="#d" x="174" y="361"/>
<use href="#u" x="176" y="366"/>
<use href="#u" x="178" y="366"/>
<use href="#u" x="179" y="402"/>
<use href="#d" x="180" y="448"/>
<use href="#d" x="180" y="453"/>
<use href="#d" x="180" y="375"/>
<use href="#d" x="181" y="403"/>
<use href="#u" x="182" y="394"/>
<use href="#d" x="182" y="374"/>
<use href="#u" x="182" y="423"/>
<use href="#u" x="182" y="422"/>
<use href="#d" x="183" y="394"/>
<use href="#u" x="187" y="417"/>
<use href="#d" x="188" y="359"/>
<use href="#u" x="190" y="380"/>
<use href="#u" x="191" y="381"/>
<use href="#d" x="192" y="364"/>
<use href="#d" x="193" y="365"/>
<use href="#u" x="193" y="404"/>
<use href="#u" x="197" y="386"/>
<use href="#d" x="197" y="399"/>
<use href="#u" x="198" y="429"/>
<use href="#u" x="198" y="424"/>
<use href="#d" x="199" y="385"/>
<use href="#u" x="202" y="368"/>
<use href="#d" x="202" y="455" class="g"/>
<use href="#d" x="202" y="367"/>
<use href="#d" x="203" y="381"/>
<use href="#u" x="203" y="405"/>
<use href="#u" x="206" y="408"/>
<use href="#u" x="206" y="393"/>
<use href="#d" x="206" y="394"/>
<use href="#d" x="211" y="366"/>
<use href="#u" x="211" y="379"/>
<use href="#u" x="211" y="378"/>
<use href="#d" x="213" y="399"/>
<use href="#u" x="214" y="399"/>
<use href="#u" x="214" y="451"/>
<use href="#d" x="216" y="407"/>
<use href="#d" x="216" y="376"/>
<use href="#u" x="216" y="405"/>
<use href="#u" x="217" y="360"/>
<use href="#u" x="217" y="453"/>
<use href="#u" x="218" y="375"/>
<use href="#d" x="219" y="386"/>
<use href="#u" x="219" y="456"/>
<use href="#d" x="221" y="391"/>
<use href="#u" x="221" y="374"/>
<use href="#u" x="221" y="393"/>
<use href="#u" x="224" y="366"/>
<use href="#d" x="224" y="381"/>
<use href="#d" x="225" y="380"/>
<use href="#d" x="226" y="374"/>
<use href="#d" x="228" y="372"/>
<use href="#u" x="229" y="359"/>
<use href="#d" x="229" y="386"/>
<use href="#d" x="229" y="357"/>
<use href="#d" x="233" y="361"/>
<use href="#d" x="233" y="360"/>
<use href="#d" x="234" y="374"/>
<use href="#u" x="235" y="366"/>
<use href="#d" x="236" y="369"/>
<use href="#d" x="240" y="366"/>
<use href="#d" x="245" y="353"/>
<use href="#u" x="248" y="444" class="g"/>
<use href="#u" x="254" y="462"/>
<use href="#u" x="254" y="348"/>
<use href="#d" x="254" y="361"/>
<use href="#u" x="256" y="363"/>
<use href="#u" x="257" y="415"/>
<use href="#u" x="257" y="333"/>
<use href="#u" x="257" y="416"/>
<use href="#u" x="258" y="339"/>
<use href="#d" x="258" y="342"/>
<use href="#d" x="262" y="351"/>
<use href="#u" x="262" y="371"/>
<use href="#u" x="263" y="351"/>
<use href="#u" x="265" y="374"/>
<use href="#u" x="267" y="356"/>
<use href="#u" x="268" y="367"/>
<use href="#u" x="268" y="444"/>
<use href="#d" x="269" y="350"/>
<use href="#u" x="275" y="329"/>
<use href="#d" x="275" y="328"/>
<use href="#d" x="276" y="349"/>
<use href="#u" x="277" y="323"/>
<use href="#d" x="278" y="351"/>
<use href="#u" x="280" y="453"/>
<use href="#d" x="282" y="362"/>
<use href="#d" x="284" y="363"/>
<use href="#d" x="286" y="356"/>
<use href="#d" x="288" y="367"/>
<use href="#u" x="292" y="446"/>
<use href="#d" x="293" y="356"/>
<use href="#u" x="294" y="295"/>
<use href="#d" x="295" y="356"/>
<use href="#u" x="297" y="304"/>
<use href="#d" x="297" y="339"/>
<use href="#d" x="298" y="364"/>
<use href="#d" x="298" y="364"/>
<use href="#u" x="298" y="453"/>
<use href="#d" x="300" y="337"/>
<use href="#d" x="300" y="317"/>
<use href="#d" x="302" y="356"/>
<use href="#d" x="303" y="376"/>
<use href="#d" x="304" y="386"/>
<use href="#d" x="309" y="336"/>
<use href="#u" x="309" y="356"/>
<use href="#d" x="310" y="381"/>
<use href="#u" x="314" y="389"/>
<use href="#d" x="315" y="391"/>
<use href="#d" x="317" y="336"/>
<use href="#d" x="317" y="356"/>
<use href="#d" x="319" y="336"/>
<use href="#d" x="319" y="327"/>
<use href="#d" x="320" y="366"/>
<use href="#u" x="320" y="436"/>
<use href="#u" x="320" y="449"/>
<use href="#d" x="321" y="364"/>
<use href="#u" x="323" y="357"/>
<use href="#d" x="325" y="399"/>
<use href="#d" x="325" y="424"/>
<use href="#d" x="325" y="429"/>
<use href="#u" x="326" y="397"/>
<use href="#d" x="328" y="342"/>
<use href="#u" x="328" y="364"/>
<use href="#u" x="329" y="363"/>
<use href="#u" x="330" y="371"/>
<use href="#u" x="330" y="340"/>
<use href="#d" x="330" y="371"/>
<use href="#d" x="336" y="338"/>
<use href="#d" x="336" y="391"/>
<use href="#u" x="337" y="359"/>
<use href="#u" x="337" y="390"/>
<use href="#d" x="337" y="456"/>
<use href="#u" x="338" y="337"/>
<use href="#u" x="338" y="345"/>
<use href="#u" x="338" y="383"/>
<use href="#u" x="338" y="398"/>
<use href="#u" x="338" y="404"/>
<use href="#u" x="338" y="359"/>
<use href="#u" x="340" y="404"/>
<use href="#d" x="340" y="400"/>
<use href="#d" x="341" y="439"/>
<use href="#u" x="343" y="446"/>
<use href="#d" x="344" y="463"/>
<use href="#u" x="349" y="439"/>
<use href="#u" x="353" y="411"/>
<use href="#u" x="353" y="412"/>
<use href="#u" x="359" y="465"/>
<use href="#u" x="364" y="466"/>
<use href="#d" x="384" y="461"/>
<use href="#u" x="389" y="468"/>
<use href="#u" x="389" y="460"/>
<use href="#u" x="391" y="469"/>
<use href="#d" x="392" y="470"/>
<use href="#d" x="392" y="469"/>
<use href="#d" x="393" y="463"/>
<use href="#u" x="399" y="462"/>
<use href="#d" x="407" y="459"/>
<use href="#u" x="409" y="458"/>
<use href="#d" x="412" y="470"/>
<use href="#d" x="414" y="471"/>
<use href="#d" x="418" y="468"/>
<use href="#d" x="425" y="465"/>
<use href="#d" x="433" y="468"/>
<use href="#u" x="441" y="469"/>
<use href="#d" x="445" y="463"/>
<use href="#u" x="449" y="467"/>
<use href="#d" x="460" y="460"/>
<use href="#d" x="478" y="470"/>
<use href="#d" x="479" y="459"/>
<use href="#u" x="480" y="460"/>
<use href="#u" x="492" y="469"/>
<use href="#u" x="500" y="463" class="g"/>
<use href="#u" x="503" y="458"/>
<use href="#u" x="503" y="463"/>
<use href="#d" x="524" y="464"/>
<use href="#u" x="535" y="458"/>
<use href="#u" x="540" y="461"/>
<use href="#u" x="548" y="460"/>
<use href="#u" x="553" y="466"/>
<use href="#u" x="554" y="471" class="g"/>
<use href="#u" x="559" y="463"/>
<use href="#d" x="563" y="470"/>
<use href="#u" x="565" y="462"/>
<use href="#u" x="565" y="465" class="g"/>
<use href="#d" x="572" y="468"/>
<use href="#t1" x="358"/>
<use href="#u" x="368" y="460"/>
<use href="#d" x="375" y="453"/>
<use href="#u" x="381" y="471"/>
<use href="#u" x="385" y="452"/>
<use href="#u" x="388" y="454"/>
<use href="#d" x="395" y="448" class="g"/>
<use href="#d" x="413" y="429"/>
<use href="#u" x="424" y="450" class="g"/>
<use href="#u" x="440" y="455"/>
<use href="#d" x="446" y="445"/>
<use href="#d" x="446" y="448"/>
<use href="#u" x="460" y="455"/>
<use href="#u" x="488" y="451"/>
<use href="#d" x="508" y="407"/>
<use href="#u" x="508" y="439"/>
<use href="#u" x="525" y="406"/>
<use href="#d" x="528" y="450"/>
<use href="#d" x="529" y="416"/>
<use href="#d" x="536" y="455"/>
<use href="#d" x="561" y="440"/>
<use href="#d" x="567" y="457"/>
<use href="#u" x="569" y="442"/>
<use href="#d" x="573" y="446"/>
<use href="#d" x="588" y="465"/>
<use href="#d" x="599" y="469"/>
<use href="#u" x="602" y="467" class="g"/>
<use href="#u" x="612" y="470"/>
<use href="#u" x="612" y="458"/>
<use href="#u" x="618" y="469"/>
<use href="#u" x="628" y="460"/>
<use href="#d" x="634" y="465"/>
<use href="#d" x="640" y="467"/>
<use href="#u" x="643" y="467"/>
<use href="#d" x="651" y="466"/>
<use href="#u" x="654" y="471"/>
<use href="#u" x="659" y="467"/>
<use href="#u" x="660" y="463"/>
<use href="#d" x="661" y="458"/>
<use href="#u" x="661" y="461"/>
<use href="#d" x="677" y="468"/>
<use href="#u" x="679" y="468"/>
<use href="#d" x="682" y="463" class="g"/>
<use href="#d" x="682" y="463" class="g"/>
<use href="#d" x="683" y="465"/>
<use href="#d" x="686" y="464"/>
<use href="#u" x="688" y="460"/>
<use href="#u" x="693" y="464"/>
<use href="#u" x="699" y="467"/>
<use href="#u" x="712" y="458"/>
<use href="#u" x="714" y="460"/>
<use href="#d" x="716" y="469"/>
<use href="#d" x="720" y="468"/>
<use href="#u" x="721" y="459"/>
<use href="#d" x="725" y="469" class="g"/>
<use href="#d" x="728" y="471"/>
<use href="#u" x="730" y="463"/>
<use href="#d" x="738" y="471"/>
<use href="#u" x="740" y="468"/>
<use href="#u" x="744" y="468"/>
<use href="#d" x="751" y="469"/>
<use href="#d" x="752" y="469"/>
<use href="#u" x="754" y="463"/>
<use href="#u" x="755" y="467"/>
<use href="#d" x="759" y="467"/>
<use href="#u" x="767" y="461"/>
<use href="#u" x="774" y="460"/>
<use href="#u" x="776" y="458"/>
<use href="#u" x="777" y="462" class="g"/>
<use href="#d" x="791" y="460"/>
<use href="#t2" x="577"/>
<use href="#d" x="585" y="451"/>
<use href="#d" x="592" y="453"/>
<use href="#u" x="594" y="444" class="g"/>
<use href="#u" x="598" y="396"/>
<use href="#u" x="613" y="452"/>
<use href="#u" x="626" y="426" class="g"/>
<use href="#u" x="636" y="387"/>
<use href="#d" x="639" y="454"/>
<use href="#u" x="639" y="430"/>
<use href="#u" x="642" y="380"/>
<use href="#d" x="645" y="418" class="g"/>
<use href="#u" x="646" y="389"/>
<use href="#u" x="657" y="404"/>
<use href="#u" x="661" y="421"/>
<use href="#u" x="675" y="414"/>
<use href="#u" x="676" y="461"/>
<use href="#d" x="679" y="449"/>
<use href="#u" x="682" y="400"/>
<use href="#d" x="682" y="417"/>
<use href="#d" x="701" y="414"/>
<use href="#d" x="723" y="461"/>
<use href="#u" x="728" y="451" class="g"/>
<use href="#d" x="736" y="464"/>
<use href="#d" x="740" y="432"/>
<use href="#u" x="749" y="466"/>
<use href="#u" x="764" y="458"/>
<use href="#d" x="784" y="450"/>
<use href="#u" x="794" y="421" class="c"/>
<use href="#u" x="799" y="463"/>
<use href="#u" x="799" y="464" class="g"/>
<use href="#u" x="801" y="470"/>
<use href="#d" x="803" y="470"/>
<use href="#u" x="804" y="465"/>
<use href="#d" x="806" y="464"/>
<use href="#u" x="814" y="461"/>
<use href="#d" x="819" y="460"/>
<use href="#d" x="820" y="464"/>
<use href="#d" x="822" y="471"/>
<use href="#d" x="829" y="460"/>
<use href="#u" x="829" y="469"/>
<use href="#u" x="831" y="458"/>
<use href="#d" x="843" y="457"/>
<use href="#d" x="847" y="465"/>
<use href="#d" x="852" y="465" class="g"/>
<use href="#d" x="868" y="463" class="g"/>
<use href="#d" x="869" y="462" class="g"/>
<use href="#u" x="873" y="464"/>
<use href="#u" x="877" y="463"/>
<use href="#d" x="880" y="459"/>
<use href="#d" x="880" y="460"/>
<use href="#d" x="889" y="460"/>
<use href="#d" x="891" y="470"/>
<use href="#u" x="919" y="458"/>
<use href="#d" x="920" y="469"/>
<use href="#u" x="924" y="461"/>
<use href="#u" x="927" y="457"/>
<use href="#d" x="933" y="471"/>
<use href="#d" x="939" y="466"/>
<use href="#u" x="945" y="458" class="g"/>
<use href="#u" x="987" y="468"/>
<use href="#u" x="987" y="471"/>
<use href="#u" x="991" y="470"/>
<use href="#u" x="1001" y="468"/>
<use href="#d" x="1005" y="466"/>
<use href="#u" x="1015" y="461"/>
<use href="#t3" x="796"/>
<use href="#u" x="798" y="467"/>
<use href="#d" x="805" y="436"/>
<use href="#u" x="823" y="456"/>
<use href="#d" x="830" y="451"/>
<use href="#d" x="834" y="423"/>
<use href="#u" x="836" y="433"/>
<use href="#u" x="837" y="373"/>
<use href="#u" x="841" y="421"/>
<use href="#d" x="853" y="441"/>
<use href="#u" x="855" y="409"/>
<use href="#u" x="856" y="409"/>
<use href="#d" x="860" y="437" class="g"/>
<use href="#u" x="860" y="448"/>
<use href="#d" x="861" y="438" class="g"/>
<use href="#d" x="862" y="454"/>
<use href="#u" x="868" y="445"/>
<use href="#d" x="868" y="447"/>
<use href="#d" x="869" y="449"/>
<use href="#d" x="878" y="452"/>
<use href="#u" x="884" y="446"/>
<use href="#u" x="911" y="431" class="g"/>
<use href="#u" x="912" y="453"/>
<use href="#d" x="916" y="444" class="g"/>
<use href="#u" x="924" y="414"/>
<use href="#d" x="927" y="427" class="g"/>
<use href="#u" x="928" y="414"/>
<use href="#u" x="933" y="318"/>
<use href="#d" x="934" y="454"/>
<use href="#u" x="935" y="307"/>
<use href="#u" x="935" y="434"/>
<use href="#d" x="935" y="448"/>
<use href="#u" x="940" y="456"/>
<use href="#d" x="942" y="414"/>
<use href="#u" x="942" y="447"/>
<use href="#d" x="943" y="190"/>
<use href="#d" x="946" y="451"/>
<use href="#d" x="952" y="196"/>
<use href="#d" x="958" y="441"/>
<use href="#d" x="959" y="140"/>
<use href="#d" x="959" y="417"/>
<use href="#u" x="961" y="432"/>
<use href="#u" x="962" y="324"/>
<use href="#u" x="965" y="455"/>
<use href="#u" x="970" y="449"/>
<use href="#u" x="975" y="468"/>
<use href="#u" x="976" y="453" class="g"/>
<use href="#u" x="984" y="321"/>
<use href="#u" x="984" y="446"/>
<use href="#d" x="987" y="381"/>
<use href="#d" x="990" y="403"/>
<use href="#u" x="994" y="451"/>
<use href="#u" x="995" y="453"/>
<use href="#u" x="995" y="453"/>
<use href="#d" x="997" y="448"/>
<use href="#d" x="1010" y="193"/>
<use href="#u" x="1012" y="456"/>
<use href="#d" x="1013" y="351"/>
<use href="#d" x="1018" y="465"/>
<use href="#d" x="1022" y="466"/>
<use href="#u" x="1027" y="460"/>
<use href="#d" x="1034" y="463"/>
<use href="#d" x="1040" y="458"/>
<use href="#u" x="1055" y="467" class="g"/>
<use href="#d" x="1058" y="469"/>
<use href="#d" x="1078" y="468"/>
<use href="#u" x="1088" y="469"/>
<use href="#d" x="1100" y="468"/>
<use href="#u" x="1128" y="463"/>
<use href="#d" x="1135" y="465"/>
<use href="#d" x="1136" y="467"/>
<use href="#u" x="1138" y="465"/>
<use href="#u" x="1147" y="462"/>
<use href="#d" x="1155" y="467"/>
<use href="#u" x="1155" y="458"/>
<use href="#d" x="1163" y="459"/>
<use href="#d" x="1169" y="468" class="g"/>
<use href="#u" x="1172" y="471"/>
<use href="#u" x="1186" y="470"/>
<use href="#u" x="1186" y="467"/>
<use href="#d" x="1188" y="465"/>
<use href="#u" x="1199" y="463"/>
<use href="#u" x="1199" y="466"/>
<use href="#u" x="1212" y="465"/>
<use href="#u" x="1224" y="463"/>
<use href="#t2" x="1015"/>
<use href="#d" x="1016" y="221"/>
<use href="#d" x="1021" y="176"/>
<use href="#u" x="1021" y="414" class="g"/>
<use href="#d" x="1022" y="216"/>
<use href="#d" x="1023" y="425"/>
<use href="#d" x="1026" y="149"/>
<use href="#u" x="1026" y="395"/>
<use href="#d" x="1026" y="172"/>
<use href="#d" x="1026" y="312"/>
<use href="#d" x="1027" y="404"/>
<use href="#d" x="1031" y="186"/>
<use href="#d" x="1031" y="454"/>
<use href="#u" x="1032" y="351"/>
<use href="#u" x="1034" y="317"/>
<use href="#d" x="1034" y="341"/>
<use href="#d" x="1039" y="171"/>
<use href="#u" x="1039" y="317"/>
<use href="#d" x="1040" y="157"/>
<use href="#d" x="1040" y="292"/>
<use href="#d" x="1041" y="301"/>
<use href="#u" x="1044" y="448" class="g"/>
<use href="#d" x="1047" y="182"/>
<use href="#u" x="1048" y="328"/>
<use href="#u" x="1048" y="415"/>
<use href="#u" x="1049" y="346"/>
<use href="#u" x="1049" y="366"/>
<use href="#u" x="1053" y="309"/>
<use href="#u" x="1053" y="392"/>
<use href="#u" x="1054" y="404"/>
<use href="#d" x="1054" y="450"/>
<use href="#d" x="1059" y="308"/>
<use href="#u" x="1059" y="361"/>
<use href="#u" x="1063" y="445" class="c"/>
<use href="#d" x="1064" y="274"/>
<use href="#d" x="1064" y="267"/>
<use href="#u" x="1066" y="222"/>
<use href="#u" x="1066" y="447"/>
<use href="#d" x="1066" y="193"/>
<use href="#u" x="1068" y="237"/>
<use href="#u" x="1083" y="429" class="c"/>
<use href="#u" x="1087" y="374"/>
<use href="#u" x="1096" y="225" class="n"/>
<use href="#u" x="1098" y="392"/>
<use href="#d" x="1100" y="451"/>
<use href="#d" x="1101" y="439"/>
<use href="#d" x="1103" y="388"/>
<use href="#d" x="1106" y="350"/>
<use href="#u" x="1106" y="451"/>
<use href="#u" x="1110" y="453"/>
<use href="#u" x="1113" y="447"/>
<use href="#u" x="1119" y="409"/>
<use href="#u" x="1135" y="452"/>
<use href="#d" x="1143" y="439"/>
<use href="#u" x="1143" y="463"/>
<use href="#d" x="1150" y="449"/>
<use href="#d" x="1152" y="439"/>
<use href="#u" x="1153" y="287" class="c"/>
<use href="#u" x="1154" y="327"/>
<use href="#u" x="1170" y="358" class="g"/>
<use href="#u" x="1175" y="441"/>
<use href="#u" x="1188" y="393"/>
<use href="#u" x="1189" y="406"/>
<use href="#d" x="1204" y="452"/>
<use href="#u" x="1205" y="437"/>
<use href="#u" x="1218" y="399"/>
<use href="#d" x="1218" y="441"/>
<use href="#u" x="1219" y="399"/>
<use href="#u" x="1220" y="418"/>
<use href="#u" x="1220" y="418"/>
<use href="#u" x="1221" y="406"/>
<use href="#u" x="1222" y="404"/>
<use href="#u" x="1222" y="446"/>
<use href="#u" x="1231" y="455"/>
<use href="#u" x="1267" y="460"/>
<use href="#u" x="1275" y="468" class="g"/>
<use href="#d" x="1278" y="457"/>
<use href="#u" x="1282" y="463"/>
<use href="#u" x="1302" y="458"/>
<use href="#d" x="1325" y="470"/>
<use href="#u" x="1360" y="464" class="g"/>
<use href="#u" x="1406" y="468"/>
<use href="#u" x="1436" y="458"/>
<use href="#u" x="1450" y="465"/>
<use href="#t0" x="1234"/>
<use href="#d" x="1240" y="432"/>
<use href="#u" x="1241" y="412"/>
<use href="#u" x="1242" y="412"/>
<use href="#u" x="1244" y="400"/>
<use href="#u" x="1246" y="399"/>
<use href="#d" x="1250" y="456"/>
<use href="#d" x="1255" y="437" class="g"/>
<use href="#d" x="1256" y="460"/>
<use href="#u" x="1276" y="397"/>
<use href="#u" x="1277" y="449"/>
<use href="#u" x="1289" y="434"/>
<use href="#u" x="1303" y="445"/>
<use href="#u" x="1321" y="417"/>
<use href="#u" x="1324" y="431"/>
<use href="#d" x="1351" y="449"/>
<use href="#d" x="1366" y="451"/>
<use href="#d" x="1376" y="451"/>
<use href="#u" x="1398" y="447"/>
<use href="#u" x="1399" y="455"/>
<use href="#u" x="1405" y="374"/>
<use href="#d" x="1406" y="418"/>
<use href="#d" x="1407" y="447" class="g"/>
<use href="#u" x="1409" y="365"/>
<use href="#d" x="1417" y="453"/>
<use href="#d" x="1431" y="425"/>
<use href="#d" x="1434" y="434" class="g"/>
<use href="#d" x="1444" y="446"/>
<use href="#u" x="1451" y="446"/>
<use href="#u" x="1468" y="462"/>
<use href="#d" x="1479" y="462"/>
<use href="#u" x="1555" y="460"/>
<use href="#u" x="1564" y="457"/>
<use href="#d" x="1592" y="460"/>
<use href="#d" x="1600" y="460"/>
<use href="#u" x="1608" y="463"/>
<use href="#u" x="1623" y="465" class="g"/>
<use href="#d" x="1625" y="468"/>
<use href="#d" x="1626" y="459"/>
<use href="#u" x="1631" y="459"/>
<use href="#u" x="1634" y="468"/>
<use href="#d" x="1634" y="471"/>
<use href="#u" x="1658" y="462"/>
<use href="#d" x="1667" y="459"/>
<use href="#t3" x="1453"/>
<use href="#u" x="1456" y="430"/>
<use href="#u" x="1463" y="327"/>
<use href="#d" x="1493" y="462"/>
<use href="#d" x="1497" y="411" class="g"/>
<use href="#d" x="1504" y="424"/>
<use href="#d" x="1510" y="416"/>
<use href="#d" x="1515" y="454"/>
<use href="#d" x="1518" y="451"/>
<use href="#u" x="1523" y="425"/>
<use href="#u" x="1524" y="450"/>
<use href="#u" x="1528" y="338"/>
<use href="#u" x="1532" y="439"/>
<use href="#u" x="1535" y="416"/>
<use href="#u" x="1541" y="457"/>
<use href="#d" x="1553" y="441"/>
<use href="#d" x="1553" y="441"/>
<use href="#u" x="1565" y="433" class="g"/>
<use href="#u" x="1565" y="433" class="g"/>
<use href="#d" x="1571" y="451"/>
<use href="#u" x="1578" y="467"/>
<use href="#d" x="1580" y="442"/>
<use href="#d" x="1580" y="442"/>
<use href="#u" x="1591" y="469"/>
<use href="#u" x="1608" y="464"/>
<use href="#u" x="1609" y="437"/>
<use href="#d" x="1616" y="432"/>
<use href="#d" x="1635" y="387"/>
<use href="#d" x="1635" y="449"/>
<use href="#d" x="1641" y="448"/>
<use href="#d" x="1650" y="448"/>
<use href="#d" x="1661" y="455"/>
<use href="#d" x="1675" y="470"/>
<use href="#u" x="1691" y="462"/>
<use href="#d" x="1719" y="469"/>
<use href="#d" x="1746" y="468"/>
<use href="#d" x="1752" y="470"/>
<use href="#u" x="1761" y="463"/>
<use href="#d" x="1775" y="458"/>
<use href="#d" x="1790" y="469"/>
<use href="#d" x="1821" y="464"/>
<use href="#u" x="1836" y="469"/>
<use href="#d" x="1838" y="458"/>
<use href="#u" x="1871" y="470"/>
<use href="#u" x="1875" y="460"/>
<use href="#u" x="1875" y="465"/>
<use href="#u" x="1882" y="461"/>
<use href="#t1" x="1672"/>
<use href="#d" x="1701" y="439"/>
<use href="#u" x="1711" y="453" class="g"/>
<use href="#u" x="1712" y="442" class="g"/>
<use href="#u" x="1727" y="440"/>
<use href="#u" x="1730" y="449"/>
<use href="#d" x="1752" y="441"/>
<use href="#d" x="1760" y="451"/>
<use href="#u" x="1766" y="465"/>
<use href="#d" x="1769" y="439"/>
<use href="#d" x="1777" y="433"/>
<use href="#u" x="1783" y="452" class="g"/>
<use href="#d" x="1794" y="434"/>
<use href="#u" x="1799" y="453"/>
<use href="#d" x="1807" y="467"/>
<use href="#d" x="1808" y="433"/>
<use href="#u" x="1813" y="414"/>
<use href="#u" x="1826" y="469"/>
<use href="#d" x="1831" y="433"/>
<use href="#d" x="1850" y="433"/>
<use href="#d" x="1852" y="463"/>
<use href="#d" x="1873" y="430"/>
<use href="#u" x="1873" y="433"/>
<use href="#d" x="1873" y="383"/>
<use href="#u" x="1887" y="454"/>
<use href="#t2" x="1891"/>
</g>
<path d="M1013.6 92 L1022.8 109.4 L1013.6 126.8 L1004.4 109.4Z" fill="#6a2496" stroke="#4a1570" stroke-width="1"/>
</g>
<line x1="137.7" y1="67.0" x2="137.7" y2="536.3" stroke="#000" stroke-width="2.8"/>
<line x1="1892.0" y1="67.6" x2="1892.0" y2="536.3" stroke="#000" stroke-width="2.7"/>
<line x1="137.0" y1="525.0" x2="1893.3" y2="525.0" stroke="#000" stroke-width="1.6"/>
<line x1="124.5" y1="524.9" x2="138.5" y2="524.9" stroke="#000" stroke-width="2.2"/>
<text transform="translate(118.0 532.3) scale(0.9275 1)" font-size="29.61" text-anchor="end" stroke="#000" stroke-width="0.45">0</text>
<line x1="124.5" y1="442.4" x2="138.5" y2="442.4" stroke="#000" stroke-width="2.2"/>
<text transform="translate(118.0 449.8) scale(0.9275 1)" font-size="29.61" text-anchor="end" stroke="#000" stroke-width="0.45">2</text>
<line x1="124.5" y1="359.8" x2="138.5" y2="359.8" stroke="#000" stroke-width="2.2"/>
<text transform="translate(118.0 367.2) scale(0.9275 1)" font-size="29.61" text-anchor="end" stroke="#000" stroke-width="0.45">4</text>
<line x1="124.5" y1="277.3" x2="138.5" y2="277.3" stroke="#000" stroke-width="2.2"/>
<text transform="translate(118.0 284.7) scale(0.9275 1)" font-size="29.61" text-anchor="end" stroke="#000" stroke-width="0.45">6</text>
<line x1="124.5" y1="194.7" x2="138.5" y2="194.7" stroke="#000" stroke-width="2.2"/>
<text transform="translate(118.0 202.1) scale(0.9275 1)" font-size="29.61" text-anchor="end" stroke="#000" stroke-width="0.45">8</text>
<line x1="124.5" y1="112.2" x2="138.5" y2="112.2" stroke="#000" stroke-width="2.2"/>
<text transform="translate(118.0 119.6) scale(0.9275 1)" font-size="29.61" text-anchor="end" stroke="#000" stroke-width="0.45">10</text>
<line x1="124.5" y1="69.2" x2="138.5" y2="69.2" stroke="#000" stroke-width="2.2"/>
<line x1="1892.2" y1="524.8" x2="1903.2" y2="524.8" stroke="#000" stroke-width="2.2"/>
<text transform="translate(1907.8 531.8) scale(0.9275 1)" font-size="29.61" stroke="#000" stroke-width="0.45">0</text>
<line x1="1892.2" y1="433.6" x2="1903.2" y2="433.6" stroke="#000" stroke-width="2.2"/>
<text transform="translate(1907.8 440.6) scale(0.9275 1)" font-size="29.61" stroke="#000" stroke-width="0.45">20</text>
<line x1="1892.2" y1="342.4" x2="1903.2" y2="342.4" stroke="#000" stroke-width="2.2"/>
<text transform="translate(1907.8 349.4) scale(0.9275 1)" font-size="29.61" stroke="#000" stroke-width="0.45">40</text>
<line x1="1892.2" y1="251.2" x2="1903.2" y2="251.2" stroke="#000" stroke-width="2.2"/>
<text transform="translate(1907.8 258.2) scale(0.9275 1)" font-size="29.61" stroke="#000" stroke-width="0.45">60</text>
<line x1="1892.2" y1="160.0" x2="1903.2" y2="160.0" stroke="#000" stroke-width="2.2"/>
<text transform="translate(1907.8 167.0) scale(0.9275 1)" font-size="29.61" stroke="#000" stroke-width="0.45">80</text>
<line x1="1892.2" y1="68.8" x2="1903.2" y2="68.8" stroke="#000" stroke-width="2.2"/>
<text transform="translate(1907.8 75.8) scale(0.9275 1)" font-size="29.61" stroke="#000" stroke-width="0.45">100</text>
<line x1="449.8" y1="525.0" x2="449.8" y2="536.0" stroke="#000" stroke-width="2"/>
<text transform="translate(449.2 557.6) scale(0.9275 1)" font-size="29.61" text-anchor="middle" stroke="#000" stroke-width="0.45">117.00</text>
<line x1="800.7" y1="525.0" x2="800.7" y2="536.0" stroke="#000" stroke-width="2"/>
<text transform="translate(800.1 557.6) scale(0.9275 1)" font-size="29.61" text-anchor="middle" stroke="#000" stroke-width="0.45">117.10</text>
<line x1="1151.5" y1="525.0" x2="1151.5" y2="536.0" stroke="#000" stroke-width="2"/>
<text transform="translate(1150.9 557.6) scale(0.9275 1)" font-size="29.61" text-anchor="middle" stroke="#000" stroke-width="0.45">117.20</text>
<line x1="1502.4" y1="525.0" x2="1502.4" y2="536.0" stroke="#000" stroke-width="2"/>
<text transform="translate(1501.8 557.6) scale(0.9275 1)" font-size="29.61" text-anchor="middle" stroke="#000" stroke-width="0.45">117.30</text>
<line x1="1853.2" y1="525.0" x2="1853.2" y2="536.0" stroke="#000" stroke-width="2"/>
<text transform="translate(1893.2 557.6) scale(0.9275 1)" font-size="29.61" text-anchor="end" stroke="#000" stroke-width="0.45">117.40</text>
<text transform="translate(1013.2 601.8) scale(0.9220 1)" font-size="35.31" text-anchor="middle" font-weight="bold" stroke="#000" stroke-width="0.5">Chromosome 12 (Mb)</text>
<text transform="translate(39.5 295.0) rotate(-90) scale(1.0220 1)" font-size="32.80" text-anchor="middle" font-weight="bold" stroke="#000" stroke-width="0.8">-log10 p-value</text>
<text transform="translate(1980.6 295.5) rotate(-90) scale(1.0285 1)" font-size="32.80" text-anchor="middle" font-weight="bold" stroke="#000" stroke-width="0.8">Recombination Rate (cM/Mb)</text>
<text transform="translate(649.9 45.0) scale(0.9615 1)" font-size="30.11">rs10507274 (T&gt;C), <tspan font-style="italic">SPRING</tspan> (<tspan font-style="italic">C12ORF49</tspan>), p.Gln55Arg</text>
<text transform="translate(0.0 40.0) scale(0.9615 1)" font-size="47.84" font-weight="bold" stroke="#000" stroke-width="0.3">a</text>
<rect x="146.6" y="78" width="98.1" height="237.6" fill="#f3f2ee" stroke="#1c1c1c" stroke-width="2.3"/>
<text transform="translate(155.4 107.3) scale(0.9350 1)" font-size="28.76" stroke="#000" stroke-width="0.4">LD (r<tspan font-size="19" dy="-8.6" dx="-1">2</tspan><tspan dy="8.6" dx="-1.5">)</tspan></text>
<rect x="166" y="132.0" width="19.7" height="30.16" fill="#ee2200" stroke="#1a1a1a" stroke-width="1.2"/>
<rect x="166" y="162.2" width="19.7" height="30.16" fill="#f7bc1f" stroke="#1a1a1a" stroke-width="1.2"/>
<rect x="166" y="192.3" width="19.7" height="30.16" fill="#77c142" stroke="#1a1a1a" stroke-width="1.2"/>
<rect x="166" y="222.5" width="19.7" height="30.16" fill="#51bccb" stroke="#1a1a1a" stroke-width="1.2"/>
<rect x="166" y="252.6" width="19.7" height="30.16" fill="#2d1a90" stroke="#1a1a1a" stroke-width="1.2"/>
<line x1="186.6" y1="131.0" x2="186.6" y2="283.8" stroke="#000" stroke-width="2"/>
<line x1="186.6" y1="132.0" x2="191.8" y2="132.0" stroke="#000" stroke-width="2"/>
<text transform="translate(196.5 140.4) scale(0.9275 1)" font-size="29.61" stroke="#000" stroke-width="0.45">1</text>
<line x1="186.6" y1="162.2" x2="191.8" y2="162.2" stroke="#000" stroke-width="2"/>
<text transform="translate(196.5 170.6) scale(0.9275 1)" font-size="29.61" stroke="#000" stroke-width="0.45">0.8</text>
<line x1="186.6" y1="192.3" x2="191.8" y2="192.3" stroke="#000" stroke-width="2"/>
<text transform="translate(196.5 200.7) scale(0.9275 1)" font-size="29.61" stroke="#000" stroke-width="0.45">0.6</text>
<line x1="186.6" y1="222.5" x2="191.8" y2="222.5" stroke="#000" stroke-width="2"/>
<text transform="translate(196.5 230.9) scale(0.9275 1)" font-size="29.61" stroke="#000" stroke-width="0.45">0.4</text>
<line x1="186.6" y1="252.6" x2="191.8" y2="252.6" stroke="#000" stroke-width="2"/>
<text transform="translate(196.5 261.0) scale(0.9275 1)" font-size="29.61" stroke="#000" stroke-width="0.45">0.2</text>
<line x1="186.6" y1="282.8" x2="191.8" y2="282.8" stroke="#000" stroke-width="2"/>
<text transform="translate(196.5 291.2) scale(0.9275 1)" font-size="29.61" stroke="#000" stroke-width="0.45">0</text>
<line x1="399.4" y1="699.0" x2="500.7" y2="699.0" stroke="#231685" stroke-width="3.2"/>
<line x1="400.5" y1="688.0" x2="400.5" y2="710.0" stroke="#231685" stroke-width="2.2"/>
<line x1="407.6" y1="688.0" x2="407.6" y2="710.0" stroke="#231685" stroke-width="2.2"/>
<line x1="967.0" y1="699.0" x2="1066.4" y2="699.0" stroke="#231685" stroke-width="3.2"/>
<line x1="1002.5" y1="688.0" x2="1002.5" y2="710.0" stroke="#231685" stroke-width="2.2"/>
<line x1="1004.0" y1="688.0" x2="1004.0" y2="710.0" stroke="#231685" stroke-width="2.2"/>
<line x1="1013.4" y1="688.0" x2="1013.4" y2="710.0" stroke="#231685" stroke-width="2.2"/>
<line x1="1065.4" y1="688.0" x2="1065.4" y2="710.0" stroke="#231685" stroke-width="2.2"/>
<rect x="967.0" y="688" width="29.0" height="22" fill="#231685"/>
<line x1="1479.6" y1="699.0" x2="1568.4" y2="699.0" stroke="#231685" stroke-width="3.2"/>
<line x1="1567.3" y1="688.0" x2="1567.3" y2="710.0" stroke="#231685" stroke-width="2.2"/>
<rect x="1479.6" y="688" width="20.6" height="22" fill="#231685"/>
<line x1="1672.7" y1="699.0" x2="1891.2" y2="699.0" stroke="#231685" stroke-width="3.2"/>
<line x1="1673.8" y1="688.0" x2="1673.8" y2="710.0" stroke="#231685" stroke-width="2.2"/>
<line x1="1732.0" y1="688.0" x2="1732.0" y2="710.0" stroke="#231685" stroke-width="2.2"/>
<line x1="1793.3" y1="688.0" x2="1793.3" y2="710.0" stroke="#231685" stroke-width="2.2"/>
<line x1="1807.9" y1="688.0" x2="1807.9" y2="710.0" stroke="#231685" stroke-width="2.2"/>
<line x1="1861.0" y1="688.0" x2="1861.0" y2="710.0" stroke="#231685" stroke-width="2.2"/>
<line x1="1066.4" y1="778.4" x2="1471.8" y2="778.4" stroke="#231685" stroke-width="3.2"/>
<line x1="1067.6" y1="767.4" x2="1067.6" y2="789.4" stroke="#231685" stroke-width="2.2"/>
<text transform="translate(349.5 682.2) scale(0.9615 1)" font-size="30.47" font-style="italic" stroke="#000" stroke-width="0.3">MAP1LC3B2</text>
<text transform="translate(510.5 682.5) scale(1.0000 1)" font-size="46.00">→</text>
<text transform="translate(933.2 682.5) scale(1.0000 1)" font-size="46.00">←</text>
<text transform="translate(971.0 682.2) scale(0.9615 1)" font-size="30.47" font-style="italic" stroke="#000" stroke-width="0.3">C12orf49</text>
<text transform="translate(1470.2 682.5) scale(1.0000 1)" font-size="46.00">←</text>
<text transform="translate(1507.0 682.2) scale(0.9615 1)" font-size="30.47" font-style="italic" stroke="#000" stroke-width="0.3">HRK</text>
<text transform="translate(1717.5 682.2) scale(0.9200 1)" font-size="30.47" font-style="italic" stroke="#000" stroke-width="0.3">FBXW8</text>
<text transform="translate(1807.6 682.5) scale(1.0000 1)" font-size="46.00">→</text>
<text transform="translate(1206.5 762.0) scale(0.9615 1)" font-size="30.47" font-style="italic" stroke="#000" stroke-width="0.3">RNFT2</text>
<text transform="translate(1291.4 762.3) scale(1.0000 1)" font-size="46.00">→</text>
<text transform="translate(0.0 789.5) scale(0.9615 1)" font-size="47.84" font-weight="bold" stroke="#000" stroke-width="0.3">b</text>
<text transform="translate(104.3 840.8) scale(0.9615 1)" font-size="43.06" font-weight="bold" stroke="#000" stroke-width="0.3">Global Lipids Genetics Consortium</text>
<text transform="translate(508.8 923.5) scale(0.9615 1)" font-size="30.16">effect of rs10507274-C allele</text>
<line x1="332.5" y1="932.0" x2="332.5" y2="1438.4" stroke="#000" stroke-width="3"/>
<line x1="331.0" y1="1437.0" x2="1202.8" y2="1437.0" stroke="#000" stroke-width="3"/>
<line x1="693.4" y1="944.2" x2="693.4" y2="1436" stroke="#000" stroke-width="2.3" stroke-dasharray="8.4 7.85"/>
<line x1="384.9" y1="1437.0" x2="384.9" y2="1445.5" stroke="#000" stroke-width="2.6"/>
<text transform="translate(384.9 1474.8) scale(0.9615 1)" font-size="30.26" text-anchor="middle">-0.02</text>
<line x1="693.4" y1="1437.0" x2="693.4" y2="1445.5" stroke="#000" stroke-width="2.6"/>
<text transform="translate(693.4 1474.8) scale(0.9615 1)" font-size="30.26" text-anchor="middle">0.00</text>
<line x1="1001.9" y1="1437.0" x2="1001.9" y2="1445.5" stroke="#000" stroke-width="2.6"/>
<text transform="translate(1001.9 1474.8) scale(0.9615 1)" font-size="30.26" text-anchor="middle">0.02</text>
<text transform="translate(693.4 1512.4) scale(0.9615 1)" font-size="30.26" text-anchor="middle">Beta</text>
<text transform="translate(1376.7 923.2) scale(0.9615 1)" font-size="30.26" text-anchor="middle">Beta</text>
<text transform="translate(1513.3 923.2) scale(0.9615 1)" font-size="30.26" text-anchor="middle">StdErr</text>
<text transform="translate(1670.3 923.2) scale(0.9615 1)" font-size="30.26" text-anchor="middle">p value</text>
<text transform="translate(1822.4 923.2) scale(0.9615 1)" font-size="30.26" text-anchor="middle">n</text>
<line x1="582.5" y1="989.7" x2="745.7" y2="989.7" stroke="#000" stroke-width="5.6"/>
<ellipse cx="664.1" cy="989.7" rx="8.3" ry="9.2"/>
<text transform="translate(321.0 1003.5) scale(0.9615 1)" font-size="30.26" text-anchor="end">Total Cholesterol</text>
<text transform="translate(1376.7 1000.7) scale(0.9615 1)" font-size="30.26" text-anchor="middle">-0.0019</text>
<text transform="translate(1513.3 1000.7) scale(0.9615 1)" font-size="30.26" text-anchor="middle">0.0027</text>
<text transform="translate(1670.3 1000.7) scale(0.9615 1)" font-size="30.26" text-anchor="middle">0.4844</text>
<text transform="translate(1822.4 1000.7) scale(0.9615 1)" font-size="30.26" text-anchor="middle">1,494,740</text>
<line x1="510.0" y1="1078.9" x2="679.3" y2="1078.9" stroke="#000" stroke-width="5.6"/>
<ellipse cx="594.7" cy="1078.9" rx="8.3" ry="9.2"/>
<text transform="translate(321.0 1088.5) scale(0.9615 1)" font-size="30.26" text-anchor="end">LDL-C</text>
<text transform="translate(1376.7 1089.7) scale(0.9615 1)" font-size="30.26" text-anchor="middle">-0.0064</text>
<text transform="translate(1513.3 1089.7) scale(0.9615 1)" font-size="30.26" text-anchor="middle">0.0028</text>
<text transform="translate(1670.3 1089.7) scale(0.9615 1)" font-size="30.26" text-anchor="middle">0.02346</text>
<text transform="translate(1822.4 1089.7) scale(0.9615 1)" font-size="30.26" text-anchor="middle">1,399,890</text>
<line x1="459.5" y1="1168.0" x2="665.1" y2="1168.0" stroke="#000" stroke-width="5.6"/>
<ellipse cx="562.3" cy="1168.0" rx="8.3" ry="9.2"/>
<text transform="translate(321.0 1180.6) scale(0.9615 1)" font-size="30.26" text-anchor="end">non-HDL-C</text>
<text transform="translate(1376.7 1178.7) scale(0.9615 1)" font-size="30.26" text-anchor="middle">-0.0085</text>
<text transform="translate(1513.3 1178.7) scale(0.9615 1)" font-size="30.26" text-anchor="middle">0.0034</text>
<text transform="translate(1670.3 1178.7) scale(0.9615 1)" font-size="30.26" text-anchor="middle">0.01194</text>
<text transform="translate(1822.4 1178.7) scale(0.9615 1)" font-size="30.26" text-anchor="middle">1,003,580</text>
<line x1="891.0" y1="1257.2" x2="1060.3" y2="1257.2" stroke="#000" stroke-width="5.6"/>
<ellipse cx="975.7" cy="1257.2" rx="8.3" ry="9.2"/>
<text transform="translate(321.0 1271.7) scale(0.9615 1)" font-size="30.26" text-anchor="end">HDL-C</text>
<text transform="translate(1376.7 1267.7) scale(0.9615 1)" font-size="30.26" text-anchor="middle">0.0183</text>
<text transform="translate(1513.3 1267.7) scale(0.9615 1)" font-size="30.26" text-anchor="middle">0.0028</text>
<text transform="translate(1670.3 1267.7) scale(0.9615 1)" font-size="30.26" text-anchor="middle">8.656e-11</text>
<text transform="translate(1822.4 1267.7) scale(0.9615 1)" font-size="30.26" text-anchor="middle">1,411,450</text>
<line x1="485.3" y1="1346.3" x2="654.7" y2="1346.3" stroke="#000" stroke-width="5.6"/>
<ellipse cx="570.0" cy="1346.3" rx="8.3" ry="9.2"/>
<text transform="translate(321.0 1361.3) scale(0.9615 1)" font-size="30.26" text-anchor="end">Triglycerides</text>
<text transform="translate(1376.7 1356.7) scale(0.9615 1)" font-size="30.26" text-anchor="middle">-0.008</text>
<text transform="translate(1513.3 1356.7) scale(0.9615 1)" font-size="30.26" text-anchor="middle">0.0028</text>
<text transform="translate(1670.3 1356.7) scale(0.9615 1)" font-size="30.26" text-anchor="middle">0.004396</text>
<text transform="translate(1822.4 1356.7) scale(0.9615 1)" font-size="30.26" text-anchor="middle">1,415,460</text>
<text transform="translate(0.0 1560.5) scale(0.9615 1)" font-size="47.84" font-weight="bold" stroke="#000" stroke-width="0.3">c</text>
<text transform="translate(87.2 1612.1) scale(0.9615 1)" font-size="43.06" font-weight="bold" stroke="#000" stroke-width="0.3">UK Biobank</text>
<text transform="translate(654.1 1654.8) scale(0.9615 1)" font-size="30.16">effect of rs10507274-C allele</text>
<line x1="333.9" y1="1640.3" x2="333.9" y2="2370.4" stroke="#000" stroke-width="3"/>
<line x1="332.4" y1="2369.0" x2="1343.5" y2="2369.0" stroke="#000" stroke-width="3"/>
<line x1="839.2" y1="1677.7" x2="839.2" y2="2368" stroke="#000" stroke-width="2.3" stroke-dasharray="8.4 7.85"/>
<line x1="379.4" y1="2369.0" x2="379.4" y2="2377.5" stroke="#000" stroke-width="2.6"/>
<text transform="translate(379.4 2413.2) scale(0.9615 1)" font-size="30.26" text-anchor="middle">-0.06</text>
<line x1="609.3" y1="2369.0" x2="609.3" y2="2377.5" stroke="#000" stroke-width="2.6"/>
<text transform="translate(609.3 2413.2) scale(0.9615 1)" font-size="30.26" text-anchor="middle">-0.03</text>
<line x1="839.2" y1="2369.0" x2="839.2" y2="2377.5" stroke="#000" stroke-width="2.6"/>
<text transform="translate(839.2 2413.2) scale(0.9615 1)" font-size="30.26" text-anchor="middle">0.00</text>
<line x1="1069.1" y1="2369.0" x2="1069.1" y2="2377.5" stroke="#000" stroke-width="2.6"/>
<text transform="translate(1069.1 2413.2) scale(0.9615 1)" font-size="30.26" text-anchor="middle">0.03</text>
<line x1="1299.0" y1="2369.0" x2="1299.0" y2="2377.5" stroke="#000" stroke-width="2.6"/>
<text transform="translate(1299.0 2413.2) scale(0.9615 1)" font-size="30.26" text-anchor="middle">0.06</text>
<text transform="translate(839.2 2449.0) scale(0.9615 1)" font-size="30.26" text-anchor="middle">Beta</text>
<text transform="translate(1413.8 1623.7) scale(0.9615 1)" font-size="30.26" text-anchor="middle">Beta</text>
<text transform="translate(1550.9 1623.7) scale(0.9615 1)" font-size="30.26" text-anchor="middle">StdErr</text>
<text transform="translate(1707.8 1623.7) scale(0.9615 1)" font-size="30.26" text-anchor="middle">p value</text>
<text transform="translate(1859.8 1623.7) scale(0.9615 1)" font-size="30.26" text-anchor="middle">n</text>
<line x1="744.9" y1="1701.6" x2="895.1" y2="1701.6" stroke="#000" stroke-width="5.6"/>
<ellipse cx="820.0" cy="1701.6" rx="8.3" ry="9.2"/>
<line x1="325.8" y1="1701.1" x2="333.9" y2="1701.1" stroke="#000" stroke-width="2.6"/>
<text transform="translate(315.0 1712.9) scale(0.9615 1)" font-size="30.26" text-anchor="end">Cholesterol</text>
<text transform="translate(1413.8 1716.5) scale(0.9615 1)" font-size="30.26" text-anchor="middle">-0.0025</text>
<text transform="translate(1550.9 1716.5) scale(0.9615 1)" font-size="30.26" text-anchor="middle">0.0050</text>
<text transform="translate(1707.8 1716.5) scale(0.9615 1)" font-size="30.26" text-anchor="middle">0.6185</text>
<text transform="translate(1859.8 1716.5) scale(0.9615 1)" font-size="30.26" text-anchor="middle">461,507</text>
<line x1="685.9" y1="1802.7" x2="833.1" y2="1802.7" stroke="#000" stroke-width="5.6"/>
<ellipse cx="759.5" cy="1802.7" rx="8.3" ry="9.2"/>
<line x1="325.8" y1="1802.2" x2="333.9" y2="1802.2" stroke="#000" stroke-width="2.6"/>
<text transform="translate(315.0 1814.0) scale(0.9615 1)" font-size="30.26" text-anchor="end">LDL-C</text>
<text transform="translate(1413.8 1817.3) scale(0.9615 1)" font-size="30.26" text-anchor="middle">-0.0104</text>
<text transform="translate(1550.9 1817.3) scale(0.9615 1)" font-size="30.26" text-anchor="middle">0.0049</text>
<text transform="translate(1707.8 1817.3) scale(0.9615 1)" font-size="30.26" text-anchor="middle">0.0355</text>
<text transform="translate(1859.8 1817.3) scale(0.9615 1)" font-size="30.26" text-anchor="middle">460,650</text>
<line x1="702.1" y1="1903.8" x2="855.3" y2="1903.8" stroke="#000" stroke-width="5.6"/>
<ellipse cx="778.7" cy="1903.8" rx="8.3" ry="9.2"/>
<line x1="325.8" y1="1903.3" x2="333.9" y2="1903.3" stroke="#000" stroke-width="2.6"/>
<text transform="translate(315.0 1915.2) scale(0.9615 1)" font-size="30.26" text-anchor="end">Apolipoprotein B</text>
<text transform="translate(1413.8 1918.1) scale(0.9615 1)" font-size="30.26" text-anchor="middle">-0.0079</text>
<text transform="translate(1550.9 1918.1) scale(0.9615 1)" font-size="30.26" text-anchor="middle">0.0051</text>
<text transform="translate(1707.8 1918.1) scale(0.9615 1)" font-size="30.26" text-anchor="middle">0.1228</text>
<text transform="translate(1859.8 1918.1) scale(0.9615 1)" font-size="30.26" text-anchor="middle">459,181</text>
<line x1="994.8" y1="2004.9" x2="1151.0" y2="2004.9" stroke="#000" stroke-width="5.6"/>
<ellipse cx="1072.9" cy="2004.9" rx="8.3" ry="9.2"/>
<line x1="325.8" y1="2004.4" x2="333.9" y2="2004.4" stroke="#000" stroke-width="2.6"/>
<text transform="translate(315.0 2016.3) scale(0.9615 1)" font-size="30.26" text-anchor="end">HDL-C</text>
<text transform="translate(1413.8 2018.9) scale(0.9615 1)" font-size="30.26" text-anchor="middle">0.0305</text>
<text transform="translate(1550.9 2018.9) scale(0.9615 1)" font-size="30.26" text-anchor="middle">0.0052</text>
<text transform="translate(1707.8 2018.9) scale(0.9615 1)" font-size="30.26" text-anchor="middle">5.25e-09</text>
<text transform="translate(1859.8 2018.9) scale(0.9615 1)" font-size="30.26" text-anchor="middle">422,405</text>
<line x1="1079.1" y1="2106.0" x2="1235.3" y2="2106.0" stroke="#000" stroke-width="5.6"/>
<ellipse cx="1157.2" cy="2106.0" rx="8.3" ry="9.2"/>
<line x1="325.8" y1="2105.5" x2="333.9" y2="2105.5" stroke="#000" stroke-width="2.6"/>
<text transform="translate(315.0 2117.4) scale(0.9615 1)" font-size="30.26" text-anchor="end">Apolipoprotein A1</text>
<text transform="translate(1413.8 2119.7) scale(0.9615 1)" font-size="30.26" text-anchor="middle">0.0415</text>
<text transform="translate(1550.9 2119.7) scale(0.9615 1)" font-size="30.26" text-anchor="middle">0.0052</text>
<text transform="translate(1707.8 2119.7) scale(0.9615 1)" font-size="30.26" text-anchor="middle">8.27e-16</text>
<text transform="translate(1859.8 2119.7) scale(0.9615 1)" font-size="30.26" text-anchor="middle">420,088</text>
<line x1="777.4" y1="2207.1" x2="951.6" y2="2207.1" stroke="#000" stroke-width="5.6"/>
<ellipse cx="864.5" cy="2207.1" rx="8.3" ry="9.2"/>
<line x1="325.8" y1="2206.6" x2="333.9" y2="2206.6" stroke="#000" stroke-width="2.6"/>
<text transform="translate(315.0 2218.6) scale(0.9615 1)" font-size="30.26" text-anchor="end">Lipoprotein (a)</text>
<text transform="translate(1413.8 2220.5) scale(0.9615 1)" font-size="30.26" text-anchor="middle">0.0033</text>
<text transform="translate(1550.9 2220.5) scale(0.9615 1)" font-size="30.26" text-anchor="middle">0.0058</text>
<text transform="translate(1707.8 2220.5) scale(0.9615 1)" font-size="30.26" text-anchor="middle">0.5655</text>
<text transform="translate(1859.8 2220.5) scale(0.9615 1)" font-size="30.26" text-anchor="middle">369,165</text>
<line x1="682.9" y1="2308.2" x2="836.1" y2="2308.2" stroke="#000" stroke-width="5.6"/>
<ellipse cx="759.5" cy="2308.2" rx="8.3" ry="9.2"/>
<line x1="325.8" y1="2307.7" x2="333.9" y2="2307.7" stroke="#000" stroke-width="2.6"/>
<text transform="translate(315.0 2319.7) scale(0.9615 1)" font-size="30.26" text-anchor="end">Triglycerides</text>
<text transform="translate(1413.8 2321.3) scale(0.9615 1)" font-size="30.26" text-anchor="middle">-0.0104</text>
<text transform="translate(1550.9 2321.3) scale(0.9615 1)" font-size="30.26" text-anchor="middle">0.0051</text>
<text transform="translate(1707.8 2321.3) scale(0.9615 1)" font-size="30.26" text-anchor="middle">0.0417</text>
<text transform="translate(1859.8 2321.3) scale(0.9615 1)" font-size="30.26" text-anchor="middle">461,140</text>
</svg>
</body></html>
